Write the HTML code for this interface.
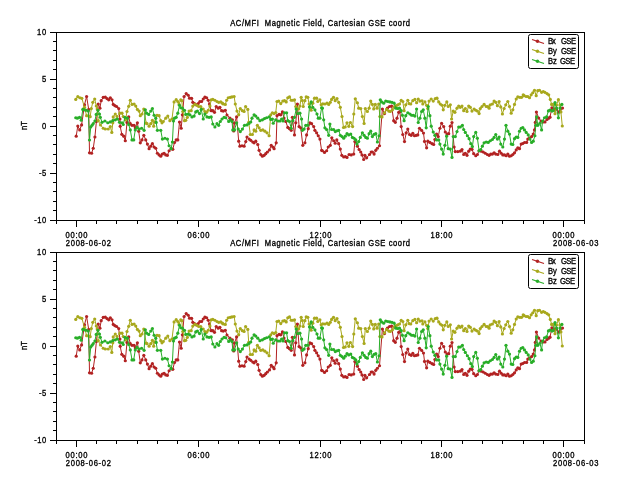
<!DOCTYPE html>
<html><head><meta charset="utf-8"><style>html,body{margin:0;padding:0;background:#fff;overflow:hidden}svg{display:block;will-change:transform}.t{stroke:#000;stroke-width:0.3px}</style></head>
<body>
<svg width="640" height="480" viewBox="0 0 640 480" font-family='"Liberation Sans", sans-serif' font-size="7.6" font-weight="normal" fill="#000" stroke="none">
<rect width="640" height="480" fill="#fff"/>
<rect x="56.5" y="32.5" width="528" height="188" fill="none" stroke="#000" stroke-width="1"/>
<line x1="50" y1="220.5" x2="56" y2="220.5" stroke="#000" stroke-width="1"/>
<line x1="53" y1="210.5" x2="56" y2="210.5" stroke="#000" stroke-width="1"/>
<line x1="53" y1="201.5" x2="56" y2="201.5" stroke="#000" stroke-width="1"/>
<line x1="53" y1="191.5" x2="56" y2="191.5" stroke="#000" stroke-width="1"/>
<line x1="53" y1="182.5" x2="56" y2="182.5" stroke="#000" stroke-width="1"/>
<line x1="50" y1="173.5" x2="56" y2="173.5" stroke="#000" stroke-width="1"/>
<line x1="53" y1="163.5" x2="56" y2="163.5" stroke="#000" stroke-width="1"/>
<line x1="53" y1="154.5" x2="56" y2="154.5" stroke="#000" stroke-width="1"/>
<line x1="53" y1="144.5" x2="56" y2="144.5" stroke="#000" stroke-width="1"/>
<line x1="53" y1="135.5" x2="56" y2="135.5" stroke="#000" stroke-width="1"/>
<line x1="50" y1="126.5" x2="56" y2="126.5" stroke="#000" stroke-width="1"/>
<line x1="53" y1="116.5" x2="56" y2="116.5" stroke="#000" stroke-width="1"/>
<line x1="53" y1="107.5" x2="56" y2="107.5" stroke="#000" stroke-width="1"/>
<line x1="53" y1="97.5" x2="56" y2="97.5" stroke="#000" stroke-width="1"/>
<line x1="53" y1="88.5" x2="56" y2="88.5" stroke="#000" stroke-width="1"/>
<line x1="50" y1="79.5" x2="56" y2="79.5" stroke="#000" stroke-width="1"/>
<line x1="53" y1="69.5" x2="56" y2="69.5" stroke="#000" stroke-width="1"/>
<line x1="53" y1="60.5" x2="56" y2="60.5" stroke="#000" stroke-width="1"/>
<line x1="53" y1="50.5" x2="56" y2="50.5" stroke="#000" stroke-width="1"/>
<line x1="53" y1="41.5" x2="56" y2="41.5" stroke="#000" stroke-width="1"/>
<line x1="50" y1="32.5" x2="56" y2="32.5" stroke="#000" stroke-width="1"/>
<line x1="56.5" y1="221" x2="56.5" y2="224" stroke="#000" stroke-width="1"/>
<line x1="76.5" y1="221" x2="76.5" y2="227" stroke="#000" stroke-width="1"/>
<line x1="96.5" y1="221" x2="96.5" y2="224" stroke="#000" stroke-width="1"/>
<line x1="116.5" y1="221" x2="116.5" y2="224" stroke="#000" stroke-width="1"/>
<line x1="137.5" y1="221" x2="137.5" y2="224" stroke="#000" stroke-width="1"/>
<line x1="157.5" y1="221" x2="157.5" y2="224" stroke="#000" stroke-width="1"/>
<line x1="177.5" y1="221" x2="177.5" y2="224" stroke="#000" stroke-width="1"/>
<line x1="198.5" y1="221" x2="198.5" y2="227" stroke="#000" stroke-width="1"/>
<line x1="218.5" y1="221" x2="218.5" y2="224" stroke="#000" stroke-width="1"/>
<line x1="238.5" y1="221" x2="238.5" y2="224" stroke="#000" stroke-width="1"/>
<line x1="259.5" y1="221" x2="259.5" y2="224" stroke="#000" stroke-width="1"/>
<line x1="279.5" y1="221" x2="279.5" y2="224" stroke="#000" stroke-width="1"/>
<line x1="299.5" y1="221" x2="299.5" y2="224" stroke="#000" stroke-width="1"/>
<line x1="320.5" y1="221" x2="320.5" y2="227" stroke="#000" stroke-width="1"/>
<line x1="340.5" y1="221" x2="340.5" y2="224" stroke="#000" stroke-width="1"/>
<line x1="360.5" y1="221" x2="360.5" y2="224" stroke="#000" stroke-width="1"/>
<line x1="380.5" y1="221" x2="380.5" y2="224" stroke="#000" stroke-width="1"/>
<line x1="401.5" y1="221" x2="401.5" y2="224" stroke="#000" stroke-width="1"/>
<line x1="421.5" y1="221" x2="421.5" y2="224" stroke="#000" stroke-width="1"/>
<line x1="441.5" y1="221" x2="441.5" y2="227" stroke="#000" stroke-width="1"/>
<line x1="462.5" y1="221" x2="462.5" y2="224" stroke="#000" stroke-width="1"/>
<line x1="482.5" y1="221" x2="482.5" y2="224" stroke="#000" stroke-width="1"/>
<line x1="502.5" y1="221" x2="502.5" y2="224" stroke="#000" stroke-width="1"/>
<line x1="523.5" y1="221" x2="523.5" y2="224" stroke="#000" stroke-width="1"/>
<line x1="543.5" y1="221" x2="543.5" y2="224" stroke="#000" stroke-width="1"/>
<line x1="563.5" y1="221" x2="563.5" y2="227" stroke="#000" stroke-width="1"/>
<line x1="584.5" y1="221" x2="584.5" y2="224" stroke="#000" stroke-width="1"/>
<text class="t" transform="translate(46.30 35.20) scale(1 1.100)" text-anchor="end" textLength="9.20" lengthAdjust="spacing" >10</text>
<text class="t" transform="translate(46.30 82.20) scale(1 1.100)" text-anchor="end" textLength="4.20" lengthAdjust="spacing" >5</text>
<text class="t" transform="translate(46.30 129.20) scale(1 1.100)" text-anchor="end" textLength="4.20" lengthAdjust="spacing" >0</text>
<text class="t" transform="translate(46.30 176.20) scale(1 1.100)" text-anchor="end" textLength="7.30" lengthAdjust="spacing" >-5</text>
<text class="t" transform="translate(46.30 223.20) scale(1 1.100)" text-anchor="end" textLength="12.10" lengthAdjust="spacing" >-10</text>
<text class="t" transform="translate(76.50 237.60) scale(1 1.100)" text-anchor="middle" textLength="22.00" lengthAdjust="spacing" >00:00</text>
<text class="t" transform="translate(198.50 237.60) scale(1 1.100)" text-anchor="middle" textLength="22.00" lengthAdjust="spacing" >06:00</text>
<text class="t" transform="translate(320.50 237.60) scale(1 1.100)" text-anchor="middle" textLength="22.00" lengthAdjust="spacing" >12:00</text>
<text class="t" transform="translate(441.50 237.60) scale(1 1.100)" text-anchor="middle" textLength="22.00" lengthAdjust="spacing" >18:00</text>
<text class="t" transform="translate(563.50 237.60) scale(1 1.100)" text-anchor="middle" textLength="22.00" lengthAdjust="spacing" >00:00</text>
<text class="t" transform="translate(65.80 246.00) scale(1 1.100)" text-anchor="start" textLength="45.20" lengthAdjust="spacing" >2008-06-02</text>
<text class="t" transform="translate(553.00 246.00) scale(1 1.100)" text-anchor="start" textLength="45.40" lengthAdjust="spacing" >2008-06-03</text>
<text class="t" transform="translate(230.20 25.80) scale(1 1.100)" text-anchor="start" textLength="179.80" lengthAdjust="spacing" >AC/MFI&#160;&#160;Magnetic Field, Cartesian GSE coord</text>
<text class="t" transform="translate(27,125.50) rotate(-90) scale(1 1.1)" text-anchor="middle" font-size="7.6">nT</text>
<path d="M76.20 136.20 L77.80 126.00 L79.70 129.90 L81.60 124.90 L84.50 104.80 L86.60 96.50 L88.70 109.40 L89.50 152.80 L91.60 153.25 L93.25 148.25 L94.90 137.00 L96.40 121.50 L98.25 104.00 L99.90 108.20 L101.20 100.70 L103.25 97.30 L105.30 97.20 L107.00 98.60 L108.70 99.80 L110.30 97.75 L112.00 99.80 L113.25 104.40 L114.90 105.70 L116.60 106.50 L118.70 108.60 L119.90 119.00 L120.20 126.30 L121.80 134.30 L123.70 136.20 L125.30 140.75 L127.00 122.40 L128.70 116.90 L130.30 123.70 L132.00 125.30 L134.10 125.30 L135.30 127.80 L137.40 122.80 L138.70 131.20 L140.30 142.80 L142.00 139.90 L143.80 135.30 L145.75 139.90 L147.40 144.10 L149.10 148.70 L150.75 146.20 L152.40 143.70 L154.10 147.00 L155.75 148.25 L157.40 153.25 L159.10 154.90 L160.75 156.20 L162.40 154.10 L164.10 153.25 L165.75 154.90 L167.40 155.30 L169.10 150.75 L171.20 148.70 L172.80 149.30 L174.50 142.50 L176.20 139.90 L177.80 139.90 L179.50 122.00 L181.20 128.25 L182.40 114.80 L184.10 96.50 L186.20 93.60 L188.25 95.25 L189.50 98.20 L191.60 98.30 L192.80 102.30 L194.50 103.60 L196.20 104.80 L198.25 103.60 L199.90 101.50 L201.60 101.50 L203.25 99.00 L204.90 97.20 L206.60 97.75 L208.25 100.25 L209.50 104.00 L211.20 110.70 L212.80 110.70 L214.50 112.30 L216.20 106.50 L218.25 108.20 L219.90 107.30 L221.60 110.70 L223.25 111.10 L225.30 110.25 L227.00 115.00 L229.90 118.20 L232.40 119.80 L233.70 131.00 L234.50 123.00 L236.60 116.90 L238.70 141.20 L239.90 146.20 L242.00 145.75 L244.10 146.20 L245.75 141.60 L247.00 137.00 L249.10 139.10 L250.75 140.30 L252.80 142.00 L254.10 142.80 L255.75 141.20 L257.80 144.50 L259.10 150.30 L260.75 154.50 L262.40 156.20 L264.10 155.30 L265.75 153.70 L267.40 152.00 L269.50 149.90 L271.20 145.30 L272.80 147.00 L274.10 148.70 L276.20 142.80 L277.00 115.70 L279.10 114.40 L280.75 114.80 L282.40 111.90 L284.00 118.00 L285.75 121.50 L287.80 127.40 L289.50 128.70 L291.20 130.30 L292.40 117.30 L294.50 134.90 L295.75 122.80 L297.40 104.00 L299.10 126.60 L300.75 127.80 L302.80 145.30 L304.90 142.80 L306.60 134.90 L308.25 128.70 L309.90 122.80 L311.60 123.70 L313.70 126.60 L314.90 130.30 L316.60 132.80 L318.25 135.75 L319.90 139.10 L321.60 150.30 L322.40 150.75 L324.50 152.40 L326.60 150.75 L328.25 147.00 L330.30 145.30 L331.80 137.80 L333.70 140.75 L335.20 143.25 L336.80 139.90 L338.70 143.70 L340.30 149.10 L341.80 155.30 L343.70 157.00 L345.30 156.60 L347.00 157.40 L349.10 154.50 L351.20 154.90 L353.70 154.10 L354.90 141.60 L357.40 146.20 L359.10 149.50 L360.75 152.00 L362.00 154.90 L363.70 159.50 L364.90 155.30 L366.60 157.80 L369.50 154.50 L371.20 152.00 L372.40 152.00 L374.10 154.10 L375.75 150.30 L377.40 148.25 L379.50 145.75 L382.40 109.00 L384.50 113.60 L387.40 108.20 L389.50 106.50 L391.60 106.10 L393.70 120.70 L395.30 122.30 L397.00 118.20 L398.70 112.30 L399.90 111.50 L401.20 126.60 L402.80 134.50 L404.50 141.60 L406.20 132.80 L407.80 129.10 L409.50 134.50 L411.20 135.30 L412.80 133.25 L414.50 135.75 L416.20 135.30 L417.80 134.90 L419.50 128.25 L421.60 130.30 L423.50 133.00 L424.50 141.40 L426.60 147.80 L427.80 141.20 L429.90 142.40 L432.00 143.70 L433.70 144.50 L434.90 139.50 L436.60 134.10 L438.25 136.60 L439.90 128.25 L441.60 123.25 L443.70 126.60 L445.30 132.00 L447.00 134.00 L448.70 133.70 L450.30 126.20 L452.00 122.50 L454.10 147.00 L455.30 151.60 L457.80 151.60 L460.30 151.20 L462.00 149.50 L463.70 154.50 L465.30 153.25 L467.00 155.30 L468.70 151.20 L470.30 149.10 L472.00 149.30 L473.70 153.70 L475.75 155.75 L477.40 154.50 L479.10 150.75 L481.20 151.20 L483.25 152.00 L485.30 153.25 L487.40 154.50 L489.10 155.30 L490.75 154.10 L492.40 154.10 L494.10 152.80 L495.75 154.10 L497.80 154.50 L499.50 151.20 L501.20 153.25 L502.80 154.90 L504.50 154.90 L506.20 155.75 L507.80 154.10 L509.50 156.20 L511.20 155.75 L512.80 154.50 L514.50 152.80 L516.20 149.90 L517.80 147.80 L519.50 148.70 L521.20 144.10 L522.80 143.50 L524.50 142.50 L526.60 142.40 L527.80 139.10 L529.50 138.00 L531.60 136.60 L533.25 134.10 L534.50 129.90 L535.30 122.40 L536.40 112.00 L538.75 118.10 L541.00 121.00 L543.00 122.00 L545.00 121.90 L547.00 119.40 L548.70 118.20 L550.00 117.20 L551.90 107.80 L553.25 108.20 L555.00 110.00 L556.60 109.00 L558.40 112.20 L560.00 111.00 L562.50 108.10" fill="none" stroke="#b22222" stroke-width="1" stroke-linejoin="round"/>
<g fill="#b22222"><circle cx="76.20" cy="136.20" r="1.60"/><circle cx="77.80" cy="126.00" r="1.60"/><circle cx="79.70" cy="129.90" r="1.60"/><circle cx="81.60" cy="124.90" r="1.60"/><circle cx="84.50" cy="104.80" r="1.60"/><circle cx="86.60" cy="96.50" r="1.60"/><circle cx="88.70" cy="109.40" r="1.60"/><circle cx="89.50" cy="152.80" r="1.60"/><circle cx="91.60" cy="153.25" r="1.60"/><circle cx="93.25" cy="148.25" r="1.60"/><circle cx="94.90" cy="137.00" r="1.60"/><circle cx="96.40" cy="121.50" r="1.60"/><circle cx="98.25" cy="104.00" r="1.60"/><circle cx="99.90" cy="108.20" r="1.60"/><circle cx="101.20" cy="100.70" r="1.60"/><circle cx="103.25" cy="97.30" r="1.60"/><circle cx="105.30" cy="97.20" r="1.60"/><circle cx="107.00" cy="98.60" r="1.60"/><circle cx="108.70" cy="99.80" r="1.60"/><circle cx="110.30" cy="97.75" r="1.60"/><circle cx="112.00" cy="99.80" r="1.60"/><circle cx="113.25" cy="104.40" r="1.60"/><circle cx="114.90" cy="105.70" r="1.60"/><circle cx="116.60" cy="106.50" r="1.60"/><circle cx="118.70" cy="108.60" r="1.60"/><circle cx="119.90" cy="119.00" r="1.60"/><circle cx="120.20" cy="126.30" r="1.60"/><circle cx="121.80" cy="134.30" r="1.60"/><circle cx="123.70" cy="136.20" r="1.60"/><circle cx="125.30" cy="140.75" r="1.60"/><circle cx="127.00" cy="122.40" r="1.60"/><circle cx="128.70" cy="116.90" r="1.60"/><circle cx="130.30" cy="123.70" r="1.60"/><circle cx="132.00" cy="125.30" r="1.60"/><circle cx="134.10" cy="125.30" r="1.60"/><circle cx="135.30" cy="127.80" r="1.60"/><circle cx="137.40" cy="122.80" r="1.60"/><circle cx="138.70" cy="131.20" r="1.60"/><circle cx="140.30" cy="142.80" r="1.60"/><circle cx="142.00" cy="139.90" r="1.60"/><circle cx="143.80" cy="135.30" r="1.60"/><circle cx="145.75" cy="139.90" r="1.60"/><circle cx="147.40" cy="144.10" r="1.60"/><circle cx="149.10" cy="148.70" r="1.60"/><circle cx="150.75" cy="146.20" r="1.60"/><circle cx="152.40" cy="143.70" r="1.60"/><circle cx="154.10" cy="147.00" r="1.60"/><circle cx="155.75" cy="148.25" r="1.60"/><circle cx="157.40" cy="153.25" r="1.60"/><circle cx="159.10" cy="154.90" r="1.60"/><circle cx="160.75" cy="156.20" r="1.60"/><circle cx="162.40" cy="154.10" r="1.60"/><circle cx="164.10" cy="153.25" r="1.60"/><circle cx="165.75" cy="154.90" r="1.60"/><circle cx="167.40" cy="155.30" r="1.60"/><circle cx="169.10" cy="150.75" r="1.60"/><circle cx="171.20" cy="148.70" r="1.60"/><circle cx="172.80" cy="149.30" r="1.60"/><circle cx="174.50" cy="142.50" r="1.60"/><circle cx="176.20" cy="139.90" r="1.60"/><circle cx="177.80" cy="139.90" r="1.60"/><circle cx="179.50" cy="122.00" r="1.60"/><circle cx="181.20" cy="128.25" r="1.60"/><circle cx="182.40" cy="114.80" r="1.60"/><circle cx="184.10" cy="96.50" r="1.60"/><circle cx="186.20" cy="93.60" r="1.60"/><circle cx="188.25" cy="95.25" r="1.60"/><circle cx="189.50" cy="98.20" r="1.60"/><circle cx="191.60" cy="98.30" r="1.60"/><circle cx="192.80" cy="102.30" r="1.60"/><circle cx="194.50" cy="103.60" r="1.60"/><circle cx="196.20" cy="104.80" r="1.60"/><circle cx="198.25" cy="103.60" r="1.60"/><circle cx="199.90" cy="101.50" r="1.60"/><circle cx="201.60" cy="101.50" r="1.60"/><circle cx="203.25" cy="99.00" r="1.60"/><circle cx="204.90" cy="97.20" r="1.60"/><circle cx="206.60" cy="97.75" r="1.60"/><circle cx="208.25" cy="100.25" r="1.60"/><circle cx="209.50" cy="104.00" r="1.60"/><circle cx="211.20" cy="110.70" r="1.60"/><circle cx="212.80" cy="110.70" r="1.60"/><circle cx="214.50" cy="112.30" r="1.60"/><circle cx="216.20" cy="106.50" r="1.60"/><circle cx="218.25" cy="108.20" r="1.60"/><circle cx="219.90" cy="107.30" r="1.60"/><circle cx="221.60" cy="110.70" r="1.60"/><circle cx="223.25" cy="111.10" r="1.60"/><circle cx="225.30" cy="110.25" r="1.60"/><circle cx="227.00" cy="115.00" r="1.60"/><circle cx="229.90" cy="118.20" r="1.60"/><circle cx="232.40" cy="119.80" r="1.60"/><circle cx="233.70" cy="131.00" r="1.60"/><circle cx="234.50" cy="123.00" r="1.60"/><circle cx="236.60" cy="116.90" r="1.60"/><circle cx="238.70" cy="141.20" r="1.60"/><circle cx="239.90" cy="146.20" r="1.60"/><circle cx="242.00" cy="145.75" r="1.60"/><circle cx="244.10" cy="146.20" r="1.60"/><circle cx="245.75" cy="141.60" r="1.60"/><circle cx="247.00" cy="137.00" r="1.60"/><circle cx="249.10" cy="139.10" r="1.60"/><circle cx="250.75" cy="140.30" r="1.60"/><circle cx="252.80" cy="142.00" r="1.60"/><circle cx="254.10" cy="142.80" r="1.60"/><circle cx="255.75" cy="141.20" r="1.60"/><circle cx="257.80" cy="144.50" r="1.60"/><circle cx="259.10" cy="150.30" r="1.60"/><circle cx="260.75" cy="154.50" r="1.60"/><circle cx="262.40" cy="156.20" r="1.60"/><circle cx="264.10" cy="155.30" r="1.60"/><circle cx="265.75" cy="153.70" r="1.60"/><circle cx="267.40" cy="152.00" r="1.60"/><circle cx="269.50" cy="149.90" r="1.60"/><circle cx="271.20" cy="145.30" r="1.60"/><circle cx="272.80" cy="147.00" r="1.60"/><circle cx="274.10" cy="148.70" r="1.60"/><circle cx="276.20" cy="142.80" r="1.60"/><circle cx="277.00" cy="115.70" r="1.60"/><circle cx="279.10" cy="114.40" r="1.60"/><circle cx="280.75" cy="114.80" r="1.60"/><circle cx="282.40" cy="111.90" r="1.60"/><circle cx="284.00" cy="118.00" r="1.60"/><circle cx="285.75" cy="121.50" r="1.60"/><circle cx="287.80" cy="127.40" r="1.60"/><circle cx="289.50" cy="128.70" r="1.60"/><circle cx="291.20" cy="130.30" r="1.60"/><circle cx="292.40" cy="117.30" r="1.60"/><circle cx="294.50" cy="134.90" r="1.60"/><circle cx="295.75" cy="122.80" r="1.60"/><circle cx="297.40" cy="104.00" r="1.60"/><circle cx="299.10" cy="126.60" r="1.60"/><circle cx="300.75" cy="127.80" r="1.60"/><circle cx="302.80" cy="145.30" r="1.60"/><circle cx="304.90" cy="142.80" r="1.60"/><circle cx="306.60" cy="134.90" r="1.60"/><circle cx="308.25" cy="128.70" r="1.60"/><circle cx="309.90" cy="122.80" r="1.60"/><circle cx="311.60" cy="123.70" r="1.60"/><circle cx="313.70" cy="126.60" r="1.60"/><circle cx="314.90" cy="130.30" r="1.60"/><circle cx="316.60" cy="132.80" r="1.60"/><circle cx="318.25" cy="135.75" r="1.60"/><circle cx="319.90" cy="139.10" r="1.60"/><circle cx="321.60" cy="150.30" r="1.60"/><circle cx="322.40" cy="150.75" r="1.60"/><circle cx="324.50" cy="152.40" r="1.60"/><circle cx="326.60" cy="150.75" r="1.60"/><circle cx="328.25" cy="147.00" r="1.60"/><circle cx="330.30" cy="145.30" r="1.60"/><circle cx="331.80" cy="137.80" r="1.60"/><circle cx="333.70" cy="140.75" r="1.60"/><circle cx="335.20" cy="143.25" r="1.60"/><circle cx="336.80" cy="139.90" r="1.60"/><circle cx="338.70" cy="143.70" r="1.60"/><circle cx="340.30" cy="149.10" r="1.60"/><circle cx="341.80" cy="155.30" r="1.60"/><circle cx="343.70" cy="157.00" r="1.60"/><circle cx="345.30" cy="156.60" r="1.60"/><circle cx="347.00" cy="157.40" r="1.60"/><circle cx="349.10" cy="154.50" r="1.60"/><circle cx="351.20" cy="154.90" r="1.60"/><circle cx="353.70" cy="154.10" r="1.60"/><circle cx="354.90" cy="141.60" r="1.60"/><circle cx="357.40" cy="146.20" r="1.60"/><circle cx="359.10" cy="149.50" r="1.60"/><circle cx="360.75" cy="152.00" r="1.60"/><circle cx="362.00" cy="154.90" r="1.60"/><circle cx="363.70" cy="159.50" r="1.60"/><circle cx="364.90" cy="155.30" r="1.60"/><circle cx="366.60" cy="157.80" r="1.60"/><circle cx="369.50" cy="154.50" r="1.60"/><circle cx="371.20" cy="152.00" r="1.60"/><circle cx="372.40" cy="152.00" r="1.60"/><circle cx="374.10" cy="154.10" r="1.60"/><circle cx="375.75" cy="150.30" r="1.60"/><circle cx="377.40" cy="148.25" r="1.60"/><circle cx="379.50" cy="145.75" r="1.60"/><circle cx="382.40" cy="109.00" r="1.60"/><circle cx="384.50" cy="113.60" r="1.60"/><circle cx="387.40" cy="108.20" r="1.60"/><circle cx="389.50" cy="106.50" r="1.60"/><circle cx="391.60" cy="106.10" r="1.60"/><circle cx="393.70" cy="120.70" r="1.60"/><circle cx="395.30" cy="122.30" r="1.60"/><circle cx="397.00" cy="118.20" r="1.60"/><circle cx="398.70" cy="112.30" r="1.60"/><circle cx="399.90" cy="111.50" r="1.60"/><circle cx="401.20" cy="126.60" r="1.60"/><circle cx="402.80" cy="134.50" r="1.60"/><circle cx="404.50" cy="141.60" r="1.60"/><circle cx="406.20" cy="132.80" r="1.60"/><circle cx="407.80" cy="129.10" r="1.60"/><circle cx="409.50" cy="134.50" r="1.60"/><circle cx="411.20" cy="135.30" r="1.60"/><circle cx="412.80" cy="133.25" r="1.60"/><circle cx="414.50" cy="135.75" r="1.60"/><circle cx="416.20" cy="135.30" r="1.60"/><circle cx="417.80" cy="134.90" r="1.60"/><circle cx="419.50" cy="128.25" r="1.60"/><circle cx="421.60" cy="130.30" r="1.60"/><circle cx="423.50" cy="133.00" r="1.60"/><circle cx="424.50" cy="141.40" r="1.60"/><circle cx="426.60" cy="147.80" r="1.60"/><circle cx="427.80" cy="141.20" r="1.60"/><circle cx="429.90" cy="142.40" r="1.60"/><circle cx="432.00" cy="143.70" r="1.60"/><circle cx="433.70" cy="144.50" r="1.60"/><circle cx="434.90" cy="139.50" r="1.60"/><circle cx="436.60" cy="134.10" r="1.60"/><circle cx="438.25" cy="136.60" r="1.60"/><circle cx="439.90" cy="128.25" r="1.60"/><circle cx="441.60" cy="123.25" r="1.60"/><circle cx="443.70" cy="126.60" r="1.60"/><circle cx="445.30" cy="132.00" r="1.60"/><circle cx="447.00" cy="134.00" r="1.60"/><circle cx="448.70" cy="133.70" r="1.60"/><circle cx="450.30" cy="126.20" r="1.60"/><circle cx="452.00" cy="122.50" r="1.60"/><circle cx="454.10" cy="147.00" r="1.60"/><circle cx="455.30" cy="151.60" r="1.60"/><circle cx="457.80" cy="151.60" r="1.60"/><circle cx="460.30" cy="151.20" r="1.60"/><circle cx="462.00" cy="149.50" r="1.60"/><circle cx="463.70" cy="154.50" r="1.60"/><circle cx="465.30" cy="153.25" r="1.60"/><circle cx="467.00" cy="155.30" r="1.60"/><circle cx="468.70" cy="151.20" r="1.60"/><circle cx="470.30" cy="149.10" r="1.60"/><circle cx="472.00" cy="149.30" r="1.60"/><circle cx="473.70" cy="153.70" r="1.60"/><circle cx="475.75" cy="155.75" r="1.60"/><circle cx="477.40" cy="154.50" r="1.60"/><circle cx="479.10" cy="150.75" r="1.60"/><circle cx="481.20" cy="151.20" r="1.60"/><circle cx="483.25" cy="152.00" r="1.60"/><circle cx="485.30" cy="153.25" r="1.60"/><circle cx="487.40" cy="154.50" r="1.60"/><circle cx="489.10" cy="155.30" r="1.60"/><circle cx="490.75" cy="154.10" r="1.60"/><circle cx="492.40" cy="154.10" r="1.60"/><circle cx="494.10" cy="152.80" r="1.60"/><circle cx="495.75" cy="154.10" r="1.60"/><circle cx="497.80" cy="154.50" r="1.60"/><circle cx="499.50" cy="151.20" r="1.60"/><circle cx="501.20" cy="153.25" r="1.60"/><circle cx="502.80" cy="154.90" r="1.60"/><circle cx="504.50" cy="154.90" r="1.60"/><circle cx="506.20" cy="155.75" r="1.60"/><circle cx="507.80" cy="154.10" r="1.60"/><circle cx="509.50" cy="156.20" r="1.60"/><circle cx="511.20" cy="155.75" r="1.60"/><circle cx="512.80" cy="154.50" r="1.60"/><circle cx="514.50" cy="152.80" r="1.60"/><circle cx="516.20" cy="149.90" r="1.60"/><circle cx="517.80" cy="147.80" r="1.60"/><circle cx="519.50" cy="148.70" r="1.60"/><circle cx="521.20" cy="144.10" r="1.60"/><circle cx="522.80" cy="143.50" r="1.60"/><circle cx="524.50" cy="142.50" r="1.60"/><circle cx="526.60" cy="142.40" r="1.60"/><circle cx="527.80" cy="139.10" r="1.60"/><circle cx="529.50" cy="138.00" r="1.60"/><circle cx="531.60" cy="136.60" r="1.60"/><circle cx="533.25" cy="134.10" r="1.60"/><circle cx="534.50" cy="129.90" r="1.60"/><circle cx="535.30" cy="122.40" r="1.60"/><circle cx="536.40" cy="112.00" r="1.60"/><circle cx="538.75" cy="118.10" r="1.60"/><circle cx="541.00" cy="121.00" r="1.60"/><circle cx="543.00" cy="122.00" r="1.60"/><circle cx="545.00" cy="121.90" r="1.60"/><circle cx="547.00" cy="119.40" r="1.60"/><circle cx="548.70" cy="118.20" r="1.60"/><circle cx="550.00" cy="117.20" r="1.60"/><circle cx="551.90" cy="107.80" r="1.60"/><circle cx="553.25" cy="108.20" r="1.60"/><circle cx="555.00" cy="110.00" r="1.60"/><circle cx="556.60" cy="109.00" r="1.60"/><circle cx="558.40" cy="112.20" r="1.60"/><circle cx="560.00" cy="111.00" r="1.60"/><circle cx="562.50" cy="108.10" r="1.60"/></g>
<path d="M75.75 99.40 L77.80 96.70 L79.90 97.75 L81.80 98.30 L84.50 107.30 L86.60 115.70 L88.70 116.00 L90.20 116.70 L91.30 108.60 L92.80 102.30 L94.70 99.00 L96.30 106.00 L97.20 109.00 L98.25 120.70 L100.50 125.00 L103.25 128.25 L105.30 129.00 L108.25 129.00 L110.30 126.60 L111.80 132.40 L112.80 122.80 L113.25 116.90 L115.30 114.00 L117.00 116.50 L119.90 113.20 L122.00 113.20 L123.25 116.50 L125.50 120.00 L127.00 111.50 L128.70 106.30 L130.30 100.25 L132.00 104.40 L134.10 104.00 L135.75 106.10 L137.40 109.40 L139.10 111.10 L140.30 115.70 L142.00 114.00 L143.80 109.00 L146.20 123.20 L147.00 123.70 L149.10 126.20 L150.75 123.70 L152.40 120.25 L153.70 126.20 L154.50 122.00 L157.00 115.25 L159.10 115.70 L160.75 120.70 L162.00 122.80 L163.25 121.50 L165.75 118.20 L167.80 116.10 L169.90 120.70 L172.00 119.00 L174.10 101.90 L176.20 99.70 L177.80 101.50 L179.00 104.00 L180.75 99.80 L181.80 100.70 L182.80 111.50 L184.50 120.70 L185.75 120.30 L187.40 117.30 L189.10 111.10 L191.20 110.70 L192.80 106.10 L194.90 104.40 L197.00 105.25 L198.70 106.50 L200.75 106.50 L203.25 109.00 L204.90 111.50 L206.60 112.30 L208.25 110.25 L209.90 106.10 L211.20 99.80 L212.80 99.40 L214.90 100.25 L217.00 101.50 L218.70 102.30 L220.75 101.90 L222.40 103.20 L223.25 104.00 L225.30 104.40 L226.60 100.25 L228.25 97.75 L230.30 97.30 L232.00 96.90 L234.10 96.50 L235.30 104.00 L237.00 111.10 L238.70 114.80 L240.30 108.60 L242.40 110.70 L244.10 111.50 L245.60 106.50 L247.80 109.40 L248.70 122.30 L250.30 134.50 L252.40 134.50 L254.10 129.90 L255.75 131.20 L257.40 125.30 L259.10 127.80 L260.75 130.30 L262.80 129.90 L264.90 131.20 L267.00 132.80 L269.10 135.75 L270.75 114.80 L272.40 112.75 L274.10 113.60 L275.75 112.50 L277.00 101.50 L278.70 101.10 L280.75 103.60 L282.80 101.10 L284.50 100.70 L286.20 101.90 L287.80 97.75 L289.50 96.90 L291.20 100.25 L292.80 100.25 L294.50 99.80 L295.75 106.50 L297.00 108.20 L298.70 109.00 L299.90 106.10 L301.20 97.30 L302.30 100.50 L303.25 106.50 L304.90 100.70 L306.20 96.90 L307.80 97.30 L309.10 104.00 L311.20 110.25 L312.80 103.20 L314.50 98.20 L316.60 98.20 L317.80 101.50 L319.90 99.80 L321.20 104.80 L322.80 103.80 L324.90 104.00 L327.00 103.20 L328.70 104.40 L330.30 102.30 L331.60 99.40 L333.50 97.30 L335.20 100.70 L337.00 98.60 L338.70 102.30 L340.30 107.30 L342.00 116.50 L343.50 127.50 L345.20 127.00 L347.00 122.80 L348.80 126.30 L350.40 122.50 L352.60 126.60 L353.80 114.00 L355.30 98.80 L357.40 102.75 L358.70 108.20 L360.75 108.60 L362.40 116.50 L364.10 123.50 L365.30 108.60 L367.40 111.50 L369.10 108.20 L370.75 101.10 L372.40 104.40 L373.70 109.00 L375.30 104.40 L377.00 108.20 L378.70 104.00 L379.90 116.50 L382.00 116.90 L384.50 112.75 L386.60 109.40 L388.70 111.10 L390.30 111.50 L392.40 109.80 L394.10 106.90 L396.20 105.70 L397.80 104.80 L399.50 104.00 L401.20 100.25 L402.80 101.50 L404.10 110.70 L405.75 104.80 L407.80 100.25 L409.10 103.60 L410.75 104.00 L412.80 100.70 L414.90 99.40 L416.60 102.75 L418.25 99.00 L419.90 101.10 L422.00 100.80 L422.80 104.00 L424.90 101.90 L426.60 105.25 L427.80 108.60 L429.10 101.10 L431.20 99.00 L433.25 101.10 L435.30 98.60 L437.00 98.20 L438.70 101.90 L440.30 104.00 L442.00 105.25 L443.25 109.80 L444.90 105.25 L446.80 101.90 L448.25 106.50 L450.30 104.80 L451.60 119.00 L453.25 111.10 L454.90 112.30 L457.00 108.20 L458.70 106.10 L460.30 107.30 L462.00 106.10 L463.70 110.70 L465.30 108.60 L467.00 111.50 L468.70 106.10 L470.30 107.30 L472.00 111.10 L474.10 109.00 L475.75 110.25 L477.40 111.10 L479.10 113.60 L480.30 108.60 L482.00 106.50 L484.10 104.40 L486.20 106.50 L487.80 106.50 L489.10 108.20 L490.30 104.80 L492.40 104.00 L494.10 101.10 L495.75 102.30 L497.40 105.70 L499.10 101.50 L500.75 106.90 L502.40 114.00 L504.10 108.60 L505.75 104.80 L507.80 101.50 L509.50 106.50 L511.20 113.20 L512.80 109.80 L514.50 104.40 L516.20 99.00 L517.80 96.90 L519.90 97.30 L521.60 97.30 L523.25 94.80 L524.10 95.70 L526.20 96.50 L527.80 96.50 L529.50 97.75 L531.20 94.80 L532.80 92.75 L534.50 90.25 L536.20 95.70 L537.80 90.70 L539.50 90.25 L541.60 92.30 L543.25 91.50 L544.90 92.30 L547.00 93.60 L548.70 94.80 L550.30 99.40 L551.60 104.40 L552.80 104.40 L555.00 113.75 L556.50 105.00 L558.40 99.70 L559.90 105.00 L560.90 111.90 L562.30 126.00" fill="none" stroke="#a8a81c" stroke-width="1" stroke-linejoin="round"/>
<g fill="#a8a81c"><circle cx="75.75" cy="99.40" r="1.60"/><circle cx="77.80" cy="96.70" r="1.60"/><circle cx="79.90" cy="97.75" r="1.60"/><circle cx="81.80" cy="98.30" r="1.60"/><circle cx="84.50" cy="107.30" r="1.60"/><circle cx="86.60" cy="115.70" r="1.60"/><circle cx="88.70" cy="116.00" r="1.60"/><circle cx="90.20" cy="116.70" r="1.60"/><circle cx="91.30" cy="108.60" r="1.60"/><circle cx="92.80" cy="102.30" r="1.60"/><circle cx="94.70" cy="99.00" r="1.60"/><circle cx="96.30" cy="106.00" r="1.60"/><circle cx="97.20" cy="109.00" r="1.60"/><circle cx="98.25" cy="120.70" r="1.60"/><circle cx="100.50" cy="125.00" r="1.60"/><circle cx="103.25" cy="128.25" r="1.60"/><circle cx="105.30" cy="129.00" r="1.60"/><circle cx="108.25" cy="129.00" r="1.60"/><circle cx="110.30" cy="126.60" r="1.60"/><circle cx="111.80" cy="132.40" r="1.60"/><circle cx="112.80" cy="122.80" r="1.60"/><circle cx="113.25" cy="116.90" r="1.60"/><circle cx="115.30" cy="114.00" r="1.60"/><circle cx="117.00" cy="116.50" r="1.60"/><circle cx="119.90" cy="113.20" r="1.60"/><circle cx="122.00" cy="113.20" r="1.60"/><circle cx="123.25" cy="116.50" r="1.60"/><circle cx="125.50" cy="120.00" r="1.60"/><circle cx="127.00" cy="111.50" r="1.60"/><circle cx="128.70" cy="106.30" r="1.60"/><circle cx="130.30" cy="100.25" r="1.60"/><circle cx="132.00" cy="104.40" r="1.60"/><circle cx="134.10" cy="104.00" r="1.60"/><circle cx="135.75" cy="106.10" r="1.60"/><circle cx="137.40" cy="109.40" r="1.60"/><circle cx="139.10" cy="111.10" r="1.60"/><circle cx="140.30" cy="115.70" r="1.60"/><circle cx="142.00" cy="114.00" r="1.60"/><circle cx="143.80" cy="109.00" r="1.60"/><circle cx="146.20" cy="123.20" r="1.60"/><circle cx="147.00" cy="123.70" r="1.60"/><circle cx="149.10" cy="126.20" r="1.60"/><circle cx="150.75" cy="123.70" r="1.60"/><circle cx="152.40" cy="120.25" r="1.60"/><circle cx="153.70" cy="126.20" r="1.60"/><circle cx="154.50" cy="122.00" r="1.60"/><circle cx="157.00" cy="115.25" r="1.60"/><circle cx="159.10" cy="115.70" r="1.60"/><circle cx="160.75" cy="120.70" r="1.60"/><circle cx="162.00" cy="122.80" r="1.60"/><circle cx="163.25" cy="121.50" r="1.60"/><circle cx="165.75" cy="118.20" r="1.60"/><circle cx="167.80" cy="116.10" r="1.60"/><circle cx="169.90" cy="120.70" r="1.60"/><circle cx="172.00" cy="119.00" r="1.60"/><circle cx="174.10" cy="101.90" r="1.60"/><circle cx="176.20" cy="99.70" r="1.60"/><circle cx="177.80" cy="101.50" r="1.60"/><circle cx="179.00" cy="104.00" r="1.60"/><circle cx="180.75" cy="99.80" r="1.60"/><circle cx="181.80" cy="100.70" r="1.60"/><circle cx="182.80" cy="111.50" r="1.60"/><circle cx="184.50" cy="120.70" r="1.60"/><circle cx="185.75" cy="120.30" r="1.60"/><circle cx="187.40" cy="117.30" r="1.60"/><circle cx="189.10" cy="111.10" r="1.60"/><circle cx="191.20" cy="110.70" r="1.60"/><circle cx="192.80" cy="106.10" r="1.60"/><circle cx="194.90" cy="104.40" r="1.60"/><circle cx="197.00" cy="105.25" r="1.60"/><circle cx="198.70" cy="106.50" r="1.60"/><circle cx="200.75" cy="106.50" r="1.60"/><circle cx="203.25" cy="109.00" r="1.60"/><circle cx="204.90" cy="111.50" r="1.60"/><circle cx="206.60" cy="112.30" r="1.60"/><circle cx="208.25" cy="110.25" r="1.60"/><circle cx="209.90" cy="106.10" r="1.60"/><circle cx="211.20" cy="99.80" r="1.60"/><circle cx="212.80" cy="99.40" r="1.60"/><circle cx="214.90" cy="100.25" r="1.60"/><circle cx="217.00" cy="101.50" r="1.60"/><circle cx="218.70" cy="102.30" r="1.60"/><circle cx="220.75" cy="101.90" r="1.60"/><circle cx="222.40" cy="103.20" r="1.60"/><circle cx="223.25" cy="104.00" r="1.60"/><circle cx="225.30" cy="104.40" r="1.60"/><circle cx="226.60" cy="100.25" r="1.60"/><circle cx="228.25" cy="97.75" r="1.60"/><circle cx="230.30" cy="97.30" r="1.60"/><circle cx="232.00" cy="96.90" r="1.60"/><circle cx="234.10" cy="96.50" r="1.60"/><circle cx="235.30" cy="104.00" r="1.60"/><circle cx="237.00" cy="111.10" r="1.60"/><circle cx="238.70" cy="114.80" r="1.60"/><circle cx="240.30" cy="108.60" r="1.60"/><circle cx="242.40" cy="110.70" r="1.60"/><circle cx="244.10" cy="111.50" r="1.60"/><circle cx="245.60" cy="106.50" r="1.60"/><circle cx="247.80" cy="109.40" r="1.60"/><circle cx="248.70" cy="122.30" r="1.60"/><circle cx="250.30" cy="134.50" r="1.60"/><circle cx="252.40" cy="134.50" r="1.60"/><circle cx="254.10" cy="129.90" r="1.60"/><circle cx="255.75" cy="131.20" r="1.60"/><circle cx="257.40" cy="125.30" r="1.60"/><circle cx="259.10" cy="127.80" r="1.60"/><circle cx="260.75" cy="130.30" r="1.60"/><circle cx="262.80" cy="129.90" r="1.60"/><circle cx="264.90" cy="131.20" r="1.60"/><circle cx="267.00" cy="132.80" r="1.60"/><circle cx="269.10" cy="135.75" r="1.60"/><circle cx="270.75" cy="114.80" r="1.60"/><circle cx="272.40" cy="112.75" r="1.60"/><circle cx="274.10" cy="113.60" r="1.60"/><circle cx="275.75" cy="112.50" r="1.60"/><circle cx="277.00" cy="101.50" r="1.60"/><circle cx="278.70" cy="101.10" r="1.60"/><circle cx="280.75" cy="103.60" r="1.60"/><circle cx="282.80" cy="101.10" r="1.60"/><circle cx="284.50" cy="100.70" r="1.60"/><circle cx="286.20" cy="101.90" r="1.60"/><circle cx="287.80" cy="97.75" r="1.60"/><circle cx="289.50" cy="96.90" r="1.60"/><circle cx="291.20" cy="100.25" r="1.60"/><circle cx="292.80" cy="100.25" r="1.60"/><circle cx="294.50" cy="99.80" r="1.60"/><circle cx="295.75" cy="106.50" r="1.60"/><circle cx="297.00" cy="108.20" r="1.60"/><circle cx="298.70" cy="109.00" r="1.60"/><circle cx="299.90" cy="106.10" r="1.60"/><circle cx="301.20" cy="97.30" r="1.60"/><circle cx="302.30" cy="100.50" r="1.60"/><circle cx="303.25" cy="106.50" r="1.60"/><circle cx="304.90" cy="100.70" r="1.60"/><circle cx="306.20" cy="96.90" r="1.60"/><circle cx="307.80" cy="97.30" r="1.60"/><circle cx="309.10" cy="104.00" r="1.60"/><circle cx="311.20" cy="110.25" r="1.60"/><circle cx="312.80" cy="103.20" r="1.60"/><circle cx="314.50" cy="98.20" r="1.60"/><circle cx="316.60" cy="98.20" r="1.60"/><circle cx="317.80" cy="101.50" r="1.60"/><circle cx="319.90" cy="99.80" r="1.60"/><circle cx="321.20" cy="104.80" r="1.60"/><circle cx="322.80" cy="103.80" r="1.60"/><circle cx="324.90" cy="104.00" r="1.60"/><circle cx="327.00" cy="103.20" r="1.60"/><circle cx="328.70" cy="104.40" r="1.60"/><circle cx="330.30" cy="102.30" r="1.60"/><circle cx="331.60" cy="99.40" r="1.60"/><circle cx="333.50" cy="97.30" r="1.60"/><circle cx="335.20" cy="100.70" r="1.60"/><circle cx="337.00" cy="98.60" r="1.60"/><circle cx="338.70" cy="102.30" r="1.60"/><circle cx="340.30" cy="107.30" r="1.60"/><circle cx="342.00" cy="116.50" r="1.60"/><circle cx="343.50" cy="127.50" r="1.60"/><circle cx="345.20" cy="127.00" r="1.60"/><circle cx="347.00" cy="122.80" r="1.60"/><circle cx="348.80" cy="126.30" r="1.60"/><circle cx="350.40" cy="122.50" r="1.60"/><circle cx="352.60" cy="126.60" r="1.60"/><circle cx="353.80" cy="114.00" r="1.60"/><circle cx="355.30" cy="98.80" r="1.60"/><circle cx="357.40" cy="102.75" r="1.60"/><circle cx="358.70" cy="108.20" r="1.60"/><circle cx="360.75" cy="108.60" r="1.60"/><circle cx="362.40" cy="116.50" r="1.60"/><circle cx="364.10" cy="123.50" r="1.60"/><circle cx="365.30" cy="108.60" r="1.60"/><circle cx="367.40" cy="111.50" r="1.60"/><circle cx="369.10" cy="108.20" r="1.60"/><circle cx="370.75" cy="101.10" r="1.60"/><circle cx="372.40" cy="104.40" r="1.60"/><circle cx="373.70" cy="109.00" r="1.60"/><circle cx="375.30" cy="104.40" r="1.60"/><circle cx="377.00" cy="108.20" r="1.60"/><circle cx="378.70" cy="104.00" r="1.60"/><circle cx="379.90" cy="116.50" r="1.60"/><circle cx="382.00" cy="116.90" r="1.60"/><circle cx="384.50" cy="112.75" r="1.60"/><circle cx="386.60" cy="109.40" r="1.60"/><circle cx="388.70" cy="111.10" r="1.60"/><circle cx="390.30" cy="111.50" r="1.60"/><circle cx="392.40" cy="109.80" r="1.60"/><circle cx="394.10" cy="106.90" r="1.60"/><circle cx="396.20" cy="105.70" r="1.60"/><circle cx="397.80" cy="104.80" r="1.60"/><circle cx="399.50" cy="104.00" r="1.60"/><circle cx="401.20" cy="100.25" r="1.60"/><circle cx="402.80" cy="101.50" r="1.60"/><circle cx="404.10" cy="110.70" r="1.60"/><circle cx="405.75" cy="104.80" r="1.60"/><circle cx="407.80" cy="100.25" r="1.60"/><circle cx="409.10" cy="103.60" r="1.60"/><circle cx="410.75" cy="104.00" r="1.60"/><circle cx="412.80" cy="100.70" r="1.60"/><circle cx="414.90" cy="99.40" r="1.60"/><circle cx="416.60" cy="102.75" r="1.60"/><circle cx="418.25" cy="99.00" r="1.60"/><circle cx="419.90" cy="101.10" r="1.60"/><circle cx="422.00" cy="100.80" r="1.60"/><circle cx="422.80" cy="104.00" r="1.60"/><circle cx="424.90" cy="101.90" r="1.60"/><circle cx="426.60" cy="105.25" r="1.60"/><circle cx="427.80" cy="108.60" r="1.60"/><circle cx="429.10" cy="101.10" r="1.60"/><circle cx="431.20" cy="99.00" r="1.60"/><circle cx="433.25" cy="101.10" r="1.60"/><circle cx="435.30" cy="98.60" r="1.60"/><circle cx="437.00" cy="98.20" r="1.60"/><circle cx="438.70" cy="101.90" r="1.60"/><circle cx="440.30" cy="104.00" r="1.60"/><circle cx="442.00" cy="105.25" r="1.60"/><circle cx="443.25" cy="109.80" r="1.60"/><circle cx="444.90" cy="105.25" r="1.60"/><circle cx="446.80" cy="101.90" r="1.60"/><circle cx="448.25" cy="106.50" r="1.60"/><circle cx="450.30" cy="104.80" r="1.60"/><circle cx="451.60" cy="119.00" r="1.60"/><circle cx="453.25" cy="111.10" r="1.60"/><circle cx="454.90" cy="112.30" r="1.60"/><circle cx="457.00" cy="108.20" r="1.60"/><circle cx="458.70" cy="106.10" r="1.60"/><circle cx="460.30" cy="107.30" r="1.60"/><circle cx="462.00" cy="106.10" r="1.60"/><circle cx="463.70" cy="110.70" r="1.60"/><circle cx="465.30" cy="108.60" r="1.60"/><circle cx="467.00" cy="111.50" r="1.60"/><circle cx="468.70" cy="106.10" r="1.60"/><circle cx="470.30" cy="107.30" r="1.60"/><circle cx="472.00" cy="111.10" r="1.60"/><circle cx="474.10" cy="109.00" r="1.60"/><circle cx="475.75" cy="110.25" r="1.60"/><circle cx="477.40" cy="111.10" r="1.60"/><circle cx="479.10" cy="113.60" r="1.60"/><circle cx="480.30" cy="108.60" r="1.60"/><circle cx="482.00" cy="106.50" r="1.60"/><circle cx="484.10" cy="104.40" r="1.60"/><circle cx="486.20" cy="106.50" r="1.60"/><circle cx="487.80" cy="106.50" r="1.60"/><circle cx="489.10" cy="108.20" r="1.60"/><circle cx="490.30" cy="104.80" r="1.60"/><circle cx="492.40" cy="104.00" r="1.60"/><circle cx="494.10" cy="101.10" r="1.60"/><circle cx="495.75" cy="102.30" r="1.60"/><circle cx="497.40" cy="105.70" r="1.60"/><circle cx="499.10" cy="101.50" r="1.60"/><circle cx="500.75" cy="106.90" r="1.60"/><circle cx="502.40" cy="114.00" r="1.60"/><circle cx="504.10" cy="108.60" r="1.60"/><circle cx="505.75" cy="104.80" r="1.60"/><circle cx="507.80" cy="101.50" r="1.60"/><circle cx="509.50" cy="106.50" r="1.60"/><circle cx="511.20" cy="113.20" r="1.60"/><circle cx="512.80" cy="109.80" r="1.60"/><circle cx="514.50" cy="104.40" r="1.60"/><circle cx="516.20" cy="99.00" r="1.60"/><circle cx="517.80" cy="96.90" r="1.60"/><circle cx="519.90" cy="97.30" r="1.60"/><circle cx="521.60" cy="97.30" r="1.60"/><circle cx="523.25" cy="94.80" r="1.60"/><circle cx="524.10" cy="95.70" r="1.60"/><circle cx="526.20" cy="96.50" r="1.60"/><circle cx="527.80" cy="96.50" r="1.60"/><circle cx="529.50" cy="97.75" r="1.60"/><circle cx="531.20" cy="94.80" r="1.60"/><circle cx="532.80" cy="92.75" r="1.60"/><circle cx="534.50" cy="90.25" r="1.60"/><circle cx="536.20" cy="95.70" r="1.60"/><circle cx="537.80" cy="90.70" r="1.60"/><circle cx="539.50" cy="90.25" r="1.60"/><circle cx="541.60" cy="92.30" r="1.60"/><circle cx="543.25" cy="91.50" r="1.60"/><circle cx="544.90" cy="92.30" r="1.60"/><circle cx="547.00" cy="93.60" r="1.60"/><circle cx="548.70" cy="94.80" r="1.60"/><circle cx="550.30" cy="99.40" r="1.60"/><circle cx="551.60" cy="104.40" r="1.60"/><circle cx="552.80" cy="104.40" r="1.60"/><circle cx="555.00" cy="113.75" r="1.60"/><circle cx="556.50" cy="105.00" r="1.60"/><circle cx="558.40" cy="99.70" r="1.60"/><circle cx="559.90" cy="105.00" r="1.60"/><circle cx="560.90" cy="111.90" r="1.60"/><circle cx="562.30" cy="126.00" r="1.60"/></g>
<path d="M75.75 117.75 L77.40 118.20 L79.50 117.30 L81.20 120.25 L82.80 109.40 L84.50 109.80 L86.20 110.25 L88.25 111.00 L89.50 140.00 L90.75 127.00 L92.00 125.30 L93.25 123.60 L94.90 121.00 L96.20 114.40 L98.00 110.25 L99.50 114.00 L100.30 117.30 L102.00 122.30 L104.90 121.00 L107.80 122.75 L110.30 121.90 L112.80 120.70 L115.30 119.80 L117.40 119.00 L119.50 122.30 L122.00 122.75 L123.25 124.50 L124.90 117.30 L127.40 118.20 L128.70 124.50 L130.30 129.90 L132.00 139.90 L133.70 139.90 L135.30 129.90 L137.00 127.40 L139.10 129.10 L141.60 128.25 L144.10 130.30 L145.30 109.80 L146.60 113.20 L148.70 114.40 L150.75 111.10 L152.40 108.60 L154.10 115.25 L155.75 118.20 L156.20 122.40 L157.40 130.30 L160.75 130.30 L162.40 139.10 L164.90 138.25 L167.40 139.10 L169.10 145.75 L171.20 148.70 L172.40 142.00 L173.50 121.00 L174.50 118.20 L176.20 117.30 L177.80 113.20 L179.50 105.25 L180.75 107.75 L182.40 108.20 L184.50 110.25 L185.75 114.40 L188.25 114.00 L189.90 114.80 L192.00 116.90 L194.10 116.10 L195.75 111.90 L197.40 111.10 L199.50 113.60 L201.20 109.40 L203.25 119.00 L204.90 114.00 L207.00 116.90 L209.10 117.30 L211.20 116.90 L212.80 124.00 L214.90 127.00 L217.00 123.70 L218.70 125.30 L220.30 121.50 L222.00 119.00 L224.10 117.30 L225.75 117.75 L228.70 121.50 L230.30 119.80 L232.00 121.50 L232.80 129.90 L234.50 129.90 L236.60 122.80 L238.25 129.10 L240.30 131.60 L242.40 129.10 L244.50 125.30 L247.00 124.90 L249.00 123.50 L250.75 122.00 L252.00 118.20 L254.10 114.80 L255.75 116.10 L257.80 118.20 L259.90 120.70 L262.40 119.80 L264.50 118.60 L266.60 117.75 L269.10 116.90 L270.75 119.40 L272.40 119.00 L273.25 123.25 L275.75 119.80 L278.00 121.00 L280.00 121.00 L281.60 119.00 L283.00 121.00 L284.50 112.75 L286.60 112.75 L287.80 120.70 L289.50 121.50 L291.20 128.25 L292.80 120.70 L294.50 117.30 L296.20 109.00 L297.80 113.60 L299.90 113.20 L301.60 119.00 L302.40 130.30 L304.10 129.10 L305.75 125.30 L307.80 125.30 L309.50 106.90 L311.20 101.90 L312.80 107.30 L314.90 109.80 L317.00 114.00 L318.25 118.20 L319.90 118.20 L321.60 107.75 L322.40 108.20 L323.70 119.80 L324.90 127.80 L326.60 129.50 L328.70 135.30 L329.90 124.10 L331.60 129.50 L333.70 129.50 L335.30 131.60 L337.00 130.75 L338.70 130.30 L340.30 135.30 L342.00 136.60 L343.70 138.25 L345.30 136.20 L347.00 133.70 L348.70 134.90 L350.75 134.10 L352.40 137.40 L354.10 138.25 L355.75 139.90 L357.00 144.10 L358.70 141.60 L360.30 137.40 L362.40 132.80 L364.10 135.30 L365.75 137.40 L367.40 138.25 L369.10 133.70 L370.75 131.20 L372.40 136.60 L374.10 134.30 L375.75 133.70 L377.40 142.00 L379.10 135.75 L380.30 99.80 L381.60 101.90 L383.70 103.20 L385.75 101.10 L387.80 101.50 L389.90 101.90 L392.00 102.30 L394.10 103.20 L395.75 108.20 L397.60 108.50 L399.50 108.20 L401.20 110.70 L402.40 115.25 L404.10 120.70 L405.75 115.70 L407.80 112.75 L409.90 114.00 L411.60 115.25 L413.25 115.25 L414.90 116.10 L416.60 109.00 L418.25 122.50 L419.90 118.20 L421.60 111.50 L423.25 109.80 L424.90 118.20 L426.20 127.80 L428.25 106.50 L429.90 115.70 L431.20 126.20 L433.25 132.00 L434.90 135.30 L436.60 139.90 L438.70 139.90 L439.90 144.10 L441.60 149.10 L443.25 154.10 L444.90 145.30 L446.60 136.20 L448.25 148.70 L450.30 149.10 L452.00 157.40 L453.25 136.60 L455.30 136.60 L457.00 131.60 L458.70 127.00 L460.30 127.00 L462.40 125.30 L463.70 129.50 L465.30 132.40 L467.40 135.75 L469.10 138.70 L470.75 143.70 L472.40 146.60 L473.70 136.60 L475.75 132.40 L477.40 138.25 L479.10 150.75 L480.75 149.50 L482.40 146.20 L484.10 142.80 L486.20 142.00 L488.25 142.40 L490.30 140.75 L492.40 139.50 L494.10 137.40 L495.75 134.50 L497.40 139.10 L499.10 137.00 L500.75 144.10 L502.80 147.00 L504.50 139.10 L506.00 125.30 L507.80 131.20 L509.50 134.10 L511.20 144.10 L512.80 144.50 L514.50 138.70 L516.20 137.00 L517.80 137.40 L519.50 131.20 L521.20 128.25 L522.80 127.50 L524.50 129.90 L526.20 132.40 L528.25 134.90 L529.90 139.10 L531.60 142.40 L533.25 141.20 L534.90 135.75 L535.75 125.30 L536.60 116.90 L537.80 125.30 L539.90 123.25 L541.60 129.90 L542.60 121.00 L544.50 117.75 L546.60 116.90 L548.40 110.90 L550.00 110.00 L552.00 111.10 L553.10 110.60 L555.00 102.50 L556.60 108.10 L558.40 117.80 L560.00 108.10 L561.90 104.40" fill="none" stroke="#28ae28" stroke-width="1" stroke-linejoin="round"/>
<g fill="#28ae28"><circle cx="75.75" cy="117.75" r="1.60"/><circle cx="77.40" cy="118.20" r="1.60"/><circle cx="79.50" cy="117.30" r="1.60"/><circle cx="81.20" cy="120.25" r="1.60"/><circle cx="82.80" cy="109.40" r="1.60"/><circle cx="84.50" cy="109.80" r="1.60"/><circle cx="86.20" cy="110.25" r="1.60"/><circle cx="88.25" cy="111.00" r="1.60"/><circle cx="89.50" cy="140.00" r="1.60"/><circle cx="90.75" cy="127.00" r="1.60"/><circle cx="92.00" cy="125.30" r="1.60"/><circle cx="93.25" cy="123.60" r="1.60"/><circle cx="94.90" cy="121.00" r="1.60"/><circle cx="96.20" cy="114.40" r="1.60"/><circle cx="98.00" cy="110.25" r="1.60"/><circle cx="99.50" cy="114.00" r="1.60"/><circle cx="100.30" cy="117.30" r="1.60"/><circle cx="102.00" cy="122.30" r="1.60"/><circle cx="104.90" cy="121.00" r="1.60"/><circle cx="107.80" cy="122.75" r="1.60"/><circle cx="110.30" cy="121.90" r="1.60"/><circle cx="112.80" cy="120.70" r="1.60"/><circle cx="115.30" cy="119.80" r="1.60"/><circle cx="117.40" cy="119.00" r="1.60"/><circle cx="119.50" cy="122.30" r="1.60"/><circle cx="122.00" cy="122.75" r="1.60"/><circle cx="123.25" cy="124.50" r="1.60"/><circle cx="124.90" cy="117.30" r="1.60"/><circle cx="127.40" cy="118.20" r="1.60"/><circle cx="128.70" cy="124.50" r="1.60"/><circle cx="130.30" cy="129.90" r="1.60"/><circle cx="132.00" cy="139.90" r="1.60"/><circle cx="133.70" cy="139.90" r="1.60"/><circle cx="135.30" cy="129.90" r="1.60"/><circle cx="137.00" cy="127.40" r="1.60"/><circle cx="139.10" cy="129.10" r="1.60"/><circle cx="141.60" cy="128.25" r="1.60"/><circle cx="144.10" cy="130.30" r="1.60"/><circle cx="145.30" cy="109.80" r="1.60"/><circle cx="146.60" cy="113.20" r="1.60"/><circle cx="148.70" cy="114.40" r="1.60"/><circle cx="150.75" cy="111.10" r="1.60"/><circle cx="152.40" cy="108.60" r="1.60"/><circle cx="154.10" cy="115.25" r="1.60"/><circle cx="155.75" cy="118.20" r="1.60"/><circle cx="156.20" cy="122.40" r="1.60"/><circle cx="157.40" cy="130.30" r="1.60"/><circle cx="160.75" cy="130.30" r="1.60"/><circle cx="162.40" cy="139.10" r="1.60"/><circle cx="164.90" cy="138.25" r="1.60"/><circle cx="167.40" cy="139.10" r="1.60"/><circle cx="169.10" cy="145.75" r="1.60"/><circle cx="171.20" cy="148.70" r="1.60"/><circle cx="172.40" cy="142.00" r="1.60"/><circle cx="173.50" cy="121.00" r="1.60"/><circle cx="174.50" cy="118.20" r="1.60"/><circle cx="176.20" cy="117.30" r="1.60"/><circle cx="177.80" cy="113.20" r="1.60"/><circle cx="179.50" cy="105.25" r="1.60"/><circle cx="180.75" cy="107.75" r="1.60"/><circle cx="182.40" cy="108.20" r="1.60"/><circle cx="184.50" cy="110.25" r="1.60"/><circle cx="185.75" cy="114.40" r="1.60"/><circle cx="188.25" cy="114.00" r="1.60"/><circle cx="189.90" cy="114.80" r="1.60"/><circle cx="192.00" cy="116.90" r="1.60"/><circle cx="194.10" cy="116.10" r="1.60"/><circle cx="195.75" cy="111.90" r="1.60"/><circle cx="197.40" cy="111.10" r="1.60"/><circle cx="199.50" cy="113.60" r="1.60"/><circle cx="201.20" cy="109.40" r="1.60"/><circle cx="203.25" cy="119.00" r="1.60"/><circle cx="204.90" cy="114.00" r="1.60"/><circle cx="207.00" cy="116.90" r="1.60"/><circle cx="209.10" cy="117.30" r="1.60"/><circle cx="211.20" cy="116.90" r="1.60"/><circle cx="212.80" cy="124.00" r="1.60"/><circle cx="214.90" cy="127.00" r="1.60"/><circle cx="217.00" cy="123.70" r="1.60"/><circle cx="218.70" cy="125.30" r="1.60"/><circle cx="220.30" cy="121.50" r="1.60"/><circle cx="222.00" cy="119.00" r="1.60"/><circle cx="224.10" cy="117.30" r="1.60"/><circle cx="225.75" cy="117.75" r="1.60"/><circle cx="228.70" cy="121.50" r="1.60"/><circle cx="230.30" cy="119.80" r="1.60"/><circle cx="232.00" cy="121.50" r="1.60"/><circle cx="232.80" cy="129.90" r="1.60"/><circle cx="234.50" cy="129.90" r="1.60"/><circle cx="236.60" cy="122.80" r="1.60"/><circle cx="238.25" cy="129.10" r="1.60"/><circle cx="240.30" cy="131.60" r="1.60"/><circle cx="242.40" cy="129.10" r="1.60"/><circle cx="244.50" cy="125.30" r="1.60"/><circle cx="247.00" cy="124.90" r="1.60"/><circle cx="249.00" cy="123.50" r="1.60"/><circle cx="250.75" cy="122.00" r="1.60"/><circle cx="252.00" cy="118.20" r="1.60"/><circle cx="254.10" cy="114.80" r="1.60"/><circle cx="255.75" cy="116.10" r="1.60"/><circle cx="257.80" cy="118.20" r="1.60"/><circle cx="259.90" cy="120.70" r="1.60"/><circle cx="262.40" cy="119.80" r="1.60"/><circle cx="264.50" cy="118.60" r="1.60"/><circle cx="266.60" cy="117.75" r="1.60"/><circle cx="269.10" cy="116.90" r="1.60"/><circle cx="270.75" cy="119.40" r="1.60"/><circle cx="272.40" cy="119.00" r="1.60"/><circle cx="273.25" cy="123.25" r="1.60"/><circle cx="275.75" cy="119.80" r="1.60"/><circle cx="278.00" cy="121.00" r="1.60"/><circle cx="280.00" cy="121.00" r="1.60"/><circle cx="281.60" cy="119.00" r="1.60"/><circle cx="283.00" cy="121.00" r="1.60"/><circle cx="284.50" cy="112.75" r="1.60"/><circle cx="286.60" cy="112.75" r="1.60"/><circle cx="287.80" cy="120.70" r="1.60"/><circle cx="289.50" cy="121.50" r="1.60"/><circle cx="291.20" cy="128.25" r="1.60"/><circle cx="292.80" cy="120.70" r="1.60"/><circle cx="294.50" cy="117.30" r="1.60"/><circle cx="296.20" cy="109.00" r="1.60"/><circle cx="297.80" cy="113.60" r="1.60"/><circle cx="299.90" cy="113.20" r="1.60"/><circle cx="301.60" cy="119.00" r="1.60"/><circle cx="302.40" cy="130.30" r="1.60"/><circle cx="304.10" cy="129.10" r="1.60"/><circle cx="305.75" cy="125.30" r="1.60"/><circle cx="307.80" cy="125.30" r="1.60"/><circle cx="309.50" cy="106.90" r="1.60"/><circle cx="311.20" cy="101.90" r="1.60"/><circle cx="312.80" cy="107.30" r="1.60"/><circle cx="314.90" cy="109.80" r="1.60"/><circle cx="317.00" cy="114.00" r="1.60"/><circle cx="318.25" cy="118.20" r="1.60"/><circle cx="319.90" cy="118.20" r="1.60"/><circle cx="321.60" cy="107.75" r="1.60"/><circle cx="322.40" cy="108.20" r="1.60"/><circle cx="323.70" cy="119.80" r="1.60"/><circle cx="324.90" cy="127.80" r="1.60"/><circle cx="326.60" cy="129.50" r="1.60"/><circle cx="328.70" cy="135.30" r="1.60"/><circle cx="329.90" cy="124.10" r="1.60"/><circle cx="331.60" cy="129.50" r="1.60"/><circle cx="333.70" cy="129.50" r="1.60"/><circle cx="335.30" cy="131.60" r="1.60"/><circle cx="337.00" cy="130.75" r="1.60"/><circle cx="338.70" cy="130.30" r="1.60"/><circle cx="340.30" cy="135.30" r="1.60"/><circle cx="342.00" cy="136.60" r="1.60"/><circle cx="343.70" cy="138.25" r="1.60"/><circle cx="345.30" cy="136.20" r="1.60"/><circle cx="347.00" cy="133.70" r="1.60"/><circle cx="348.70" cy="134.90" r="1.60"/><circle cx="350.75" cy="134.10" r="1.60"/><circle cx="352.40" cy="137.40" r="1.60"/><circle cx="354.10" cy="138.25" r="1.60"/><circle cx="355.75" cy="139.90" r="1.60"/><circle cx="357.00" cy="144.10" r="1.60"/><circle cx="358.70" cy="141.60" r="1.60"/><circle cx="360.30" cy="137.40" r="1.60"/><circle cx="362.40" cy="132.80" r="1.60"/><circle cx="364.10" cy="135.30" r="1.60"/><circle cx="365.75" cy="137.40" r="1.60"/><circle cx="367.40" cy="138.25" r="1.60"/><circle cx="369.10" cy="133.70" r="1.60"/><circle cx="370.75" cy="131.20" r="1.60"/><circle cx="372.40" cy="136.60" r="1.60"/><circle cx="374.10" cy="134.30" r="1.60"/><circle cx="375.75" cy="133.70" r="1.60"/><circle cx="377.40" cy="142.00" r="1.60"/><circle cx="379.10" cy="135.75" r="1.60"/><circle cx="380.30" cy="99.80" r="1.60"/><circle cx="381.60" cy="101.90" r="1.60"/><circle cx="383.70" cy="103.20" r="1.60"/><circle cx="385.75" cy="101.10" r="1.60"/><circle cx="387.80" cy="101.50" r="1.60"/><circle cx="389.90" cy="101.90" r="1.60"/><circle cx="392.00" cy="102.30" r="1.60"/><circle cx="394.10" cy="103.20" r="1.60"/><circle cx="395.75" cy="108.20" r="1.60"/><circle cx="397.60" cy="108.50" r="1.60"/><circle cx="399.50" cy="108.20" r="1.60"/><circle cx="401.20" cy="110.70" r="1.60"/><circle cx="402.40" cy="115.25" r="1.60"/><circle cx="404.10" cy="120.70" r="1.60"/><circle cx="405.75" cy="115.70" r="1.60"/><circle cx="407.80" cy="112.75" r="1.60"/><circle cx="409.90" cy="114.00" r="1.60"/><circle cx="411.60" cy="115.25" r="1.60"/><circle cx="413.25" cy="115.25" r="1.60"/><circle cx="414.90" cy="116.10" r="1.60"/><circle cx="416.60" cy="109.00" r="1.60"/><circle cx="418.25" cy="122.50" r="1.60"/><circle cx="419.90" cy="118.20" r="1.60"/><circle cx="421.60" cy="111.50" r="1.60"/><circle cx="423.25" cy="109.80" r="1.60"/><circle cx="424.90" cy="118.20" r="1.60"/><circle cx="426.20" cy="127.80" r="1.60"/><circle cx="428.25" cy="106.50" r="1.60"/><circle cx="429.90" cy="115.70" r="1.60"/><circle cx="431.20" cy="126.20" r="1.60"/><circle cx="433.25" cy="132.00" r="1.60"/><circle cx="434.90" cy="135.30" r="1.60"/><circle cx="436.60" cy="139.90" r="1.60"/><circle cx="438.70" cy="139.90" r="1.60"/><circle cx="439.90" cy="144.10" r="1.60"/><circle cx="441.60" cy="149.10" r="1.60"/><circle cx="443.25" cy="154.10" r="1.60"/><circle cx="444.90" cy="145.30" r="1.60"/><circle cx="446.60" cy="136.20" r="1.60"/><circle cx="448.25" cy="148.70" r="1.60"/><circle cx="450.30" cy="149.10" r="1.60"/><circle cx="452.00" cy="157.40" r="1.60"/><circle cx="453.25" cy="136.60" r="1.60"/><circle cx="455.30" cy="136.60" r="1.60"/><circle cx="457.00" cy="131.60" r="1.60"/><circle cx="458.70" cy="127.00" r="1.60"/><circle cx="460.30" cy="127.00" r="1.60"/><circle cx="462.40" cy="125.30" r="1.60"/><circle cx="463.70" cy="129.50" r="1.60"/><circle cx="465.30" cy="132.40" r="1.60"/><circle cx="467.40" cy="135.75" r="1.60"/><circle cx="469.10" cy="138.70" r="1.60"/><circle cx="470.75" cy="143.70" r="1.60"/><circle cx="472.40" cy="146.60" r="1.60"/><circle cx="473.70" cy="136.60" r="1.60"/><circle cx="475.75" cy="132.40" r="1.60"/><circle cx="477.40" cy="138.25" r="1.60"/><circle cx="479.10" cy="150.75" r="1.60"/><circle cx="480.75" cy="149.50" r="1.60"/><circle cx="482.40" cy="146.20" r="1.60"/><circle cx="484.10" cy="142.80" r="1.60"/><circle cx="486.20" cy="142.00" r="1.60"/><circle cx="488.25" cy="142.40" r="1.60"/><circle cx="490.30" cy="140.75" r="1.60"/><circle cx="492.40" cy="139.50" r="1.60"/><circle cx="494.10" cy="137.40" r="1.60"/><circle cx="495.75" cy="134.50" r="1.60"/><circle cx="497.40" cy="139.10" r="1.60"/><circle cx="499.10" cy="137.00" r="1.60"/><circle cx="500.75" cy="144.10" r="1.60"/><circle cx="502.80" cy="147.00" r="1.60"/><circle cx="504.50" cy="139.10" r="1.60"/><circle cx="506.00" cy="125.30" r="1.60"/><circle cx="507.80" cy="131.20" r="1.60"/><circle cx="509.50" cy="134.10" r="1.60"/><circle cx="511.20" cy="144.10" r="1.60"/><circle cx="512.80" cy="144.50" r="1.60"/><circle cx="514.50" cy="138.70" r="1.60"/><circle cx="516.20" cy="137.00" r="1.60"/><circle cx="517.80" cy="137.40" r="1.60"/><circle cx="519.50" cy="131.20" r="1.60"/><circle cx="521.20" cy="128.25" r="1.60"/><circle cx="522.80" cy="127.50" r="1.60"/><circle cx="524.50" cy="129.90" r="1.60"/><circle cx="526.20" cy="132.40" r="1.60"/><circle cx="528.25" cy="134.90" r="1.60"/><circle cx="529.90" cy="139.10" r="1.60"/><circle cx="531.60" cy="142.40" r="1.60"/><circle cx="533.25" cy="141.20" r="1.60"/><circle cx="534.90" cy="135.75" r="1.60"/><circle cx="535.75" cy="125.30" r="1.60"/><circle cx="536.60" cy="116.90" r="1.60"/><circle cx="537.80" cy="125.30" r="1.60"/><circle cx="539.90" cy="123.25" r="1.60"/><circle cx="541.60" cy="129.90" r="1.60"/><circle cx="542.60" cy="121.00" r="1.60"/><circle cx="544.50" cy="117.75" r="1.60"/><circle cx="546.60" cy="116.90" r="1.60"/><circle cx="548.40" cy="110.90" r="1.60"/><circle cx="550.00" cy="110.00" r="1.60"/><circle cx="552.00" cy="111.10" r="1.60"/><circle cx="553.10" cy="110.60" r="1.60"/><circle cx="555.00" cy="102.50" r="1.60"/><circle cx="556.60" cy="108.10" r="1.60"/><circle cx="558.40" cy="117.80" r="1.60"/><circle cx="560.00" cy="108.10" r="1.60"/><circle cx="561.90" cy="104.40" r="1.60"/></g>
<rect x="528.5" y="34.5" width="50" height="34" rx="2" ry="2" fill="#fff" stroke="#000" stroke-width="1"/>
<line x1="532" y1="39.50" x2="544" y2="43.50" stroke="#b22222" stroke-width="1.25"/>
<circle cx="537.5" cy="41.20" r="1.7" fill="#b22222"/>
<text class="t" transform="translate(547.90 43.80) scale(1 1.100)" text-anchor="start" textLength="8.00" lengthAdjust="spacing" >Bx</text>
<text class="t" transform="translate(560.90 43.80) scale(1 1.100)" text-anchor="start" textLength="15.10" lengthAdjust="spacing" >GSE</text>
<line x1="532" y1="49.50" x2="544" y2="53.50" stroke="#a8a81c" stroke-width="1.25"/>
<circle cx="537.5" cy="51.20" r="1.7" fill="#a8a81c"/>
<text class="t" transform="translate(547.90 53.60) scale(1 1.100)" text-anchor="start" textLength="8.90" lengthAdjust="spacing" >By</text>
<text class="t" transform="translate(560.90 53.60) scale(1 1.100)" text-anchor="start" textLength="15.10" lengthAdjust="spacing" >GSE</text>
<line x1="532" y1="59.50" x2="544" y2="63.50" stroke="#28ae28" stroke-width="1.25"/>
<circle cx="537.5" cy="61.20" r="1.7" fill="#28ae28"/>
<text class="t" transform="translate(547.90 63.50) scale(1 1.100)" text-anchor="start" textLength="8.90" lengthAdjust="spacing" >Bz</text>
<text class="t" transform="translate(559.90 63.50) scale(1 1.100)" text-anchor="start" textLength="15.10" lengthAdjust="spacing" >GSE</text>
<rect x="56.5" y="252.5" width="528" height="188" fill="none" stroke="#000" stroke-width="1"/>
<line x1="50" y1="440.5" x2="56" y2="440.5" stroke="#000" stroke-width="1"/>
<line x1="53" y1="430.5" x2="56" y2="430.5" stroke="#000" stroke-width="1"/>
<line x1="53" y1="421.5" x2="56" y2="421.5" stroke="#000" stroke-width="1"/>
<line x1="53" y1="411.5" x2="56" y2="411.5" stroke="#000" stroke-width="1"/>
<line x1="53" y1="402.5" x2="56" y2="402.5" stroke="#000" stroke-width="1"/>
<line x1="50" y1="393.5" x2="56" y2="393.5" stroke="#000" stroke-width="1"/>
<line x1="53" y1="383.5" x2="56" y2="383.5" stroke="#000" stroke-width="1"/>
<line x1="53" y1="374.5" x2="56" y2="374.5" stroke="#000" stroke-width="1"/>
<line x1="53" y1="364.5" x2="56" y2="364.5" stroke="#000" stroke-width="1"/>
<line x1="53" y1="355.5" x2="56" y2="355.5" stroke="#000" stroke-width="1"/>
<line x1="50" y1="346.5" x2="56" y2="346.5" stroke="#000" stroke-width="1"/>
<line x1="53" y1="336.5" x2="56" y2="336.5" stroke="#000" stroke-width="1"/>
<line x1="53" y1="327.5" x2="56" y2="327.5" stroke="#000" stroke-width="1"/>
<line x1="53" y1="317.5" x2="56" y2="317.5" stroke="#000" stroke-width="1"/>
<line x1="53" y1="308.5" x2="56" y2="308.5" stroke="#000" stroke-width="1"/>
<line x1="50" y1="299.5" x2="56" y2="299.5" stroke="#000" stroke-width="1"/>
<line x1="53" y1="289.5" x2="56" y2="289.5" stroke="#000" stroke-width="1"/>
<line x1="53" y1="280.5" x2="56" y2="280.5" stroke="#000" stroke-width="1"/>
<line x1="53" y1="270.5" x2="56" y2="270.5" stroke="#000" stroke-width="1"/>
<line x1="53" y1="261.5" x2="56" y2="261.5" stroke="#000" stroke-width="1"/>
<line x1="50" y1="252.5" x2="56" y2="252.5" stroke="#000" stroke-width="1"/>
<line x1="56.5" y1="441" x2="56.5" y2="444" stroke="#000" stroke-width="1"/>
<line x1="76.5" y1="441" x2="76.5" y2="447" stroke="#000" stroke-width="1"/>
<line x1="96.5" y1="441" x2="96.5" y2="444" stroke="#000" stroke-width="1"/>
<line x1="116.5" y1="441" x2="116.5" y2="444" stroke="#000" stroke-width="1"/>
<line x1="137.5" y1="441" x2="137.5" y2="444" stroke="#000" stroke-width="1"/>
<line x1="157.5" y1="441" x2="157.5" y2="444" stroke="#000" stroke-width="1"/>
<line x1="177.5" y1="441" x2="177.5" y2="444" stroke="#000" stroke-width="1"/>
<line x1="198.5" y1="441" x2="198.5" y2="447" stroke="#000" stroke-width="1"/>
<line x1="218.5" y1="441" x2="218.5" y2="444" stroke="#000" stroke-width="1"/>
<line x1="238.5" y1="441" x2="238.5" y2="444" stroke="#000" stroke-width="1"/>
<line x1="259.5" y1="441" x2="259.5" y2="444" stroke="#000" stroke-width="1"/>
<line x1="279.5" y1="441" x2="279.5" y2="444" stroke="#000" stroke-width="1"/>
<line x1="299.5" y1="441" x2="299.5" y2="444" stroke="#000" stroke-width="1"/>
<line x1="320.5" y1="441" x2="320.5" y2="447" stroke="#000" stroke-width="1"/>
<line x1="340.5" y1="441" x2="340.5" y2="444" stroke="#000" stroke-width="1"/>
<line x1="360.5" y1="441" x2="360.5" y2="444" stroke="#000" stroke-width="1"/>
<line x1="380.5" y1="441" x2="380.5" y2="444" stroke="#000" stroke-width="1"/>
<line x1="401.5" y1="441" x2="401.5" y2="444" stroke="#000" stroke-width="1"/>
<line x1="421.5" y1="441" x2="421.5" y2="444" stroke="#000" stroke-width="1"/>
<line x1="441.5" y1="441" x2="441.5" y2="447" stroke="#000" stroke-width="1"/>
<line x1="462.5" y1="441" x2="462.5" y2="444" stroke="#000" stroke-width="1"/>
<line x1="482.5" y1="441" x2="482.5" y2="444" stroke="#000" stroke-width="1"/>
<line x1="502.5" y1="441" x2="502.5" y2="444" stroke="#000" stroke-width="1"/>
<line x1="523.5" y1="441" x2="523.5" y2="444" stroke="#000" stroke-width="1"/>
<line x1="543.5" y1="441" x2="543.5" y2="444" stroke="#000" stroke-width="1"/>
<line x1="563.5" y1="441" x2="563.5" y2="447" stroke="#000" stroke-width="1"/>
<line x1="584.5" y1="441" x2="584.5" y2="444" stroke="#000" stroke-width="1"/>
<text class="t" transform="translate(46.30 255.20) scale(1 1.100)" text-anchor="end" textLength="9.20" lengthAdjust="spacing" >10</text>
<text class="t" transform="translate(46.30 302.20) scale(1 1.100)" text-anchor="end" textLength="4.20" lengthAdjust="spacing" >5</text>
<text class="t" transform="translate(46.30 349.20) scale(1 1.100)" text-anchor="end" textLength="4.20" lengthAdjust="spacing" >0</text>
<text class="t" transform="translate(46.30 396.20) scale(1 1.100)" text-anchor="end" textLength="7.30" lengthAdjust="spacing" >-5</text>
<text class="t" transform="translate(46.30 443.20) scale(1 1.100)" text-anchor="end" textLength="12.10" lengthAdjust="spacing" >-10</text>
<text class="t" transform="translate(76.50 457.60) scale(1 1.100)" text-anchor="middle" textLength="22.00" lengthAdjust="spacing" >00:00</text>
<text class="t" transform="translate(198.50 457.60) scale(1 1.100)" text-anchor="middle" textLength="22.00" lengthAdjust="spacing" >06:00</text>
<text class="t" transform="translate(320.50 457.60) scale(1 1.100)" text-anchor="middle" textLength="22.00" lengthAdjust="spacing" >12:00</text>
<text class="t" transform="translate(441.50 457.60) scale(1 1.100)" text-anchor="middle" textLength="22.00" lengthAdjust="spacing" >18:00</text>
<text class="t" transform="translate(563.50 457.60) scale(1 1.100)" text-anchor="middle" textLength="22.00" lengthAdjust="spacing" >00:00</text>
<text class="t" transform="translate(65.80 466.00) scale(1 1.100)" text-anchor="start" textLength="45.20" lengthAdjust="spacing" >2008-06-02</text>
<text class="t" transform="translate(553.00 466.00) scale(1 1.100)" text-anchor="start" textLength="45.40" lengthAdjust="spacing" >2008-06-03</text>
<text class="t" transform="translate(230.20 245.80) scale(1 1.100)" text-anchor="start" textLength="179.80" lengthAdjust="spacing" >AC/MFI&#160;&#160;Magnetic Field, Cartesian GSE coord</text>
<text class="t" transform="translate(27,345.50) rotate(-90) scale(1 1.1)" text-anchor="middle" font-size="7.6">nT</text>
<path d="M76.20 356.20 L77.80 346.00 L79.70 349.90 L81.60 344.90 L84.50 324.80 L86.60 316.50 L88.70 329.40 L89.50 372.80 L91.60 373.25 L93.25 368.25 L94.90 357.00 L96.40 341.50 L98.25 324.00 L99.90 328.20 L101.20 320.70 L103.25 317.30 L105.30 317.20 L107.00 318.60 L108.70 319.80 L110.30 317.75 L112.00 319.80 L113.25 324.40 L114.90 325.70 L116.60 326.50 L118.70 328.60 L119.90 339.00 L120.20 346.30 L121.80 354.30 L123.70 356.20 L125.30 360.75 L127.00 342.40 L128.70 336.90 L130.30 343.70 L132.00 345.30 L134.10 345.30 L135.30 347.80 L137.40 342.80 L138.70 351.20 L140.30 362.80 L142.00 359.90 L143.80 355.30 L145.75 359.90 L147.40 364.10 L149.10 368.70 L150.75 366.20 L152.40 363.70 L154.10 367.00 L155.75 368.25 L157.40 373.25 L159.10 374.90 L160.75 376.20 L162.40 374.10 L164.10 373.25 L165.75 374.90 L167.40 375.30 L169.10 370.75 L171.20 368.70 L172.80 369.30 L174.50 362.50 L176.20 359.90 L177.80 359.90 L179.50 342.00 L181.20 348.25 L182.40 334.80 L184.10 316.50 L186.20 313.60 L188.25 315.25 L189.50 318.20 L191.60 318.30 L192.80 322.30 L194.50 323.60 L196.20 324.80 L198.25 323.60 L199.90 321.50 L201.60 321.50 L203.25 319.00 L204.90 317.20 L206.60 317.75 L208.25 320.25 L209.50 324.00 L211.20 330.70 L212.80 330.70 L214.50 332.30 L216.20 326.50 L218.25 328.20 L219.90 327.30 L221.60 330.70 L223.25 331.10 L225.30 330.25 L227.00 335.00 L229.90 338.20 L232.40 339.80 L233.70 351.00 L234.50 343.00 L236.60 336.90 L238.70 361.20 L239.90 366.20 L242.00 365.75 L244.10 366.20 L245.75 361.60 L247.00 357.00 L249.10 359.10 L250.75 360.30 L252.80 362.00 L254.10 362.80 L255.75 361.20 L257.80 364.50 L259.10 370.30 L260.75 374.50 L262.40 376.20 L264.10 375.30 L265.75 373.70 L267.40 372.00 L269.50 369.90 L271.20 365.30 L272.80 367.00 L274.10 368.70 L276.20 362.80 L277.00 335.70 L279.10 334.40 L280.75 334.80 L282.40 331.90 L284.00 338.00 L285.75 341.50 L287.80 347.40 L289.50 348.70 L291.20 350.30 L292.40 337.30 L294.50 354.90 L295.75 342.80 L297.40 324.00 L299.10 346.60 L300.75 347.80 L302.80 365.30 L304.90 362.80 L306.60 354.90 L308.25 348.70 L309.90 342.80 L311.60 343.70 L313.70 346.60 L314.90 350.30 L316.60 352.80 L318.25 355.75 L319.90 359.10 L321.60 370.30 L322.40 370.75 L324.50 372.40 L326.60 370.75 L328.25 367.00 L330.30 365.30 L331.80 357.80 L333.70 360.75 L335.20 363.25 L336.80 359.90 L338.70 363.70 L340.30 369.10 L341.80 375.30 L343.70 377.00 L345.30 376.60 L347.00 377.40 L349.10 374.50 L351.20 374.90 L353.70 374.10 L354.90 361.60 L357.40 366.20 L359.10 369.50 L360.75 372.00 L362.00 374.90 L363.70 379.50 L364.90 375.30 L366.60 377.80 L369.50 374.50 L371.20 372.00 L372.40 372.00 L374.10 374.10 L375.75 370.30 L377.40 368.25 L379.50 365.75 L382.40 329.00 L384.50 333.60 L387.40 328.20 L389.50 326.50 L391.60 326.10 L393.70 340.70 L395.30 342.30 L397.00 338.20 L398.70 332.30 L399.90 331.50 L401.20 346.60 L402.80 354.50 L404.50 361.60 L406.20 352.80 L407.80 349.10 L409.50 354.50 L411.20 355.30 L412.80 353.25 L414.50 355.75 L416.20 355.30 L417.80 354.90 L419.50 348.25 L421.60 350.30 L423.50 353.00 L424.50 361.40 L426.60 367.80 L427.80 361.20 L429.90 362.40 L432.00 363.70 L433.70 364.50 L434.90 359.50 L436.60 354.10 L438.25 356.60 L439.90 348.25 L441.60 343.25 L443.70 346.60 L445.30 352.00 L447.00 354.00 L448.70 353.70 L450.30 346.20 L452.00 342.50 L454.10 367.00 L455.30 371.60 L457.80 371.60 L460.30 371.20 L462.00 369.50 L463.70 374.50 L465.30 373.25 L467.00 375.30 L468.70 371.20 L470.30 369.10 L472.00 369.30 L473.70 373.70 L475.75 375.75 L477.40 374.50 L479.10 370.75 L481.20 371.20 L483.25 372.00 L485.30 373.25 L487.40 374.50 L489.10 375.30 L490.75 374.10 L492.40 374.10 L494.10 372.80 L495.75 374.10 L497.80 374.50 L499.50 371.20 L501.20 373.25 L502.80 374.90 L504.50 374.90 L506.20 375.75 L507.80 374.10 L509.50 376.20 L511.20 375.75 L512.80 374.50 L514.50 372.80 L516.20 369.90 L517.80 367.80 L519.50 368.70 L521.20 364.10 L522.80 363.50 L524.50 362.50 L526.60 362.40 L527.80 359.10 L529.50 358.00 L531.60 356.60 L533.25 354.10 L534.50 349.90 L535.30 342.40 L536.40 332.00 L538.75 338.10 L541.00 341.00 L543.00 342.00 L545.00 341.90 L547.00 339.40 L548.70 338.20 L550.00 337.20 L551.90 327.80 L553.25 328.20 L555.00 330.00 L556.60 329.00 L558.40 332.20 L560.00 331.00 L562.50 328.10" fill="none" stroke="#b22222" stroke-width="1" stroke-linejoin="round"/>
<g fill="#b22222"><circle cx="76.20" cy="356.20" r="1.60"/><circle cx="77.80" cy="346.00" r="1.60"/><circle cx="79.70" cy="349.90" r="1.60"/><circle cx="81.60" cy="344.90" r="1.60"/><circle cx="84.50" cy="324.80" r="1.60"/><circle cx="86.60" cy="316.50" r="1.60"/><circle cx="88.70" cy="329.40" r="1.60"/><circle cx="89.50" cy="372.80" r="1.60"/><circle cx="91.60" cy="373.25" r="1.60"/><circle cx="93.25" cy="368.25" r="1.60"/><circle cx="94.90" cy="357.00" r="1.60"/><circle cx="96.40" cy="341.50" r="1.60"/><circle cx="98.25" cy="324.00" r="1.60"/><circle cx="99.90" cy="328.20" r="1.60"/><circle cx="101.20" cy="320.70" r="1.60"/><circle cx="103.25" cy="317.30" r="1.60"/><circle cx="105.30" cy="317.20" r="1.60"/><circle cx="107.00" cy="318.60" r="1.60"/><circle cx="108.70" cy="319.80" r="1.60"/><circle cx="110.30" cy="317.75" r="1.60"/><circle cx="112.00" cy="319.80" r="1.60"/><circle cx="113.25" cy="324.40" r="1.60"/><circle cx="114.90" cy="325.70" r="1.60"/><circle cx="116.60" cy="326.50" r="1.60"/><circle cx="118.70" cy="328.60" r="1.60"/><circle cx="119.90" cy="339.00" r="1.60"/><circle cx="120.20" cy="346.30" r="1.60"/><circle cx="121.80" cy="354.30" r="1.60"/><circle cx="123.70" cy="356.20" r="1.60"/><circle cx="125.30" cy="360.75" r="1.60"/><circle cx="127.00" cy="342.40" r="1.60"/><circle cx="128.70" cy="336.90" r="1.60"/><circle cx="130.30" cy="343.70" r="1.60"/><circle cx="132.00" cy="345.30" r="1.60"/><circle cx="134.10" cy="345.30" r="1.60"/><circle cx="135.30" cy="347.80" r="1.60"/><circle cx="137.40" cy="342.80" r="1.60"/><circle cx="138.70" cy="351.20" r="1.60"/><circle cx="140.30" cy="362.80" r="1.60"/><circle cx="142.00" cy="359.90" r="1.60"/><circle cx="143.80" cy="355.30" r="1.60"/><circle cx="145.75" cy="359.90" r="1.60"/><circle cx="147.40" cy="364.10" r="1.60"/><circle cx="149.10" cy="368.70" r="1.60"/><circle cx="150.75" cy="366.20" r="1.60"/><circle cx="152.40" cy="363.70" r="1.60"/><circle cx="154.10" cy="367.00" r="1.60"/><circle cx="155.75" cy="368.25" r="1.60"/><circle cx="157.40" cy="373.25" r="1.60"/><circle cx="159.10" cy="374.90" r="1.60"/><circle cx="160.75" cy="376.20" r="1.60"/><circle cx="162.40" cy="374.10" r="1.60"/><circle cx="164.10" cy="373.25" r="1.60"/><circle cx="165.75" cy="374.90" r="1.60"/><circle cx="167.40" cy="375.30" r="1.60"/><circle cx="169.10" cy="370.75" r="1.60"/><circle cx="171.20" cy="368.70" r="1.60"/><circle cx="172.80" cy="369.30" r="1.60"/><circle cx="174.50" cy="362.50" r="1.60"/><circle cx="176.20" cy="359.90" r="1.60"/><circle cx="177.80" cy="359.90" r="1.60"/><circle cx="179.50" cy="342.00" r="1.60"/><circle cx="181.20" cy="348.25" r="1.60"/><circle cx="182.40" cy="334.80" r="1.60"/><circle cx="184.10" cy="316.50" r="1.60"/><circle cx="186.20" cy="313.60" r="1.60"/><circle cx="188.25" cy="315.25" r="1.60"/><circle cx="189.50" cy="318.20" r="1.60"/><circle cx="191.60" cy="318.30" r="1.60"/><circle cx="192.80" cy="322.30" r="1.60"/><circle cx="194.50" cy="323.60" r="1.60"/><circle cx="196.20" cy="324.80" r="1.60"/><circle cx="198.25" cy="323.60" r="1.60"/><circle cx="199.90" cy="321.50" r="1.60"/><circle cx="201.60" cy="321.50" r="1.60"/><circle cx="203.25" cy="319.00" r="1.60"/><circle cx="204.90" cy="317.20" r="1.60"/><circle cx="206.60" cy="317.75" r="1.60"/><circle cx="208.25" cy="320.25" r="1.60"/><circle cx="209.50" cy="324.00" r="1.60"/><circle cx="211.20" cy="330.70" r="1.60"/><circle cx="212.80" cy="330.70" r="1.60"/><circle cx="214.50" cy="332.30" r="1.60"/><circle cx="216.20" cy="326.50" r="1.60"/><circle cx="218.25" cy="328.20" r="1.60"/><circle cx="219.90" cy="327.30" r="1.60"/><circle cx="221.60" cy="330.70" r="1.60"/><circle cx="223.25" cy="331.10" r="1.60"/><circle cx="225.30" cy="330.25" r="1.60"/><circle cx="227.00" cy="335.00" r="1.60"/><circle cx="229.90" cy="338.20" r="1.60"/><circle cx="232.40" cy="339.80" r="1.60"/><circle cx="233.70" cy="351.00" r="1.60"/><circle cx="234.50" cy="343.00" r="1.60"/><circle cx="236.60" cy="336.90" r="1.60"/><circle cx="238.70" cy="361.20" r="1.60"/><circle cx="239.90" cy="366.20" r="1.60"/><circle cx="242.00" cy="365.75" r="1.60"/><circle cx="244.10" cy="366.20" r="1.60"/><circle cx="245.75" cy="361.60" r="1.60"/><circle cx="247.00" cy="357.00" r="1.60"/><circle cx="249.10" cy="359.10" r="1.60"/><circle cx="250.75" cy="360.30" r="1.60"/><circle cx="252.80" cy="362.00" r="1.60"/><circle cx="254.10" cy="362.80" r="1.60"/><circle cx="255.75" cy="361.20" r="1.60"/><circle cx="257.80" cy="364.50" r="1.60"/><circle cx="259.10" cy="370.30" r="1.60"/><circle cx="260.75" cy="374.50" r="1.60"/><circle cx="262.40" cy="376.20" r="1.60"/><circle cx="264.10" cy="375.30" r="1.60"/><circle cx="265.75" cy="373.70" r="1.60"/><circle cx="267.40" cy="372.00" r="1.60"/><circle cx="269.50" cy="369.90" r="1.60"/><circle cx="271.20" cy="365.30" r="1.60"/><circle cx="272.80" cy="367.00" r="1.60"/><circle cx="274.10" cy="368.70" r="1.60"/><circle cx="276.20" cy="362.80" r="1.60"/><circle cx="277.00" cy="335.70" r="1.60"/><circle cx="279.10" cy="334.40" r="1.60"/><circle cx="280.75" cy="334.80" r="1.60"/><circle cx="282.40" cy="331.90" r="1.60"/><circle cx="284.00" cy="338.00" r="1.60"/><circle cx="285.75" cy="341.50" r="1.60"/><circle cx="287.80" cy="347.40" r="1.60"/><circle cx="289.50" cy="348.70" r="1.60"/><circle cx="291.20" cy="350.30" r="1.60"/><circle cx="292.40" cy="337.30" r="1.60"/><circle cx="294.50" cy="354.90" r="1.60"/><circle cx="295.75" cy="342.80" r="1.60"/><circle cx="297.40" cy="324.00" r="1.60"/><circle cx="299.10" cy="346.60" r="1.60"/><circle cx="300.75" cy="347.80" r="1.60"/><circle cx="302.80" cy="365.30" r="1.60"/><circle cx="304.90" cy="362.80" r="1.60"/><circle cx="306.60" cy="354.90" r="1.60"/><circle cx="308.25" cy="348.70" r="1.60"/><circle cx="309.90" cy="342.80" r="1.60"/><circle cx="311.60" cy="343.70" r="1.60"/><circle cx="313.70" cy="346.60" r="1.60"/><circle cx="314.90" cy="350.30" r="1.60"/><circle cx="316.60" cy="352.80" r="1.60"/><circle cx="318.25" cy="355.75" r="1.60"/><circle cx="319.90" cy="359.10" r="1.60"/><circle cx="321.60" cy="370.30" r="1.60"/><circle cx="322.40" cy="370.75" r="1.60"/><circle cx="324.50" cy="372.40" r="1.60"/><circle cx="326.60" cy="370.75" r="1.60"/><circle cx="328.25" cy="367.00" r="1.60"/><circle cx="330.30" cy="365.30" r="1.60"/><circle cx="331.80" cy="357.80" r="1.60"/><circle cx="333.70" cy="360.75" r="1.60"/><circle cx="335.20" cy="363.25" r="1.60"/><circle cx="336.80" cy="359.90" r="1.60"/><circle cx="338.70" cy="363.70" r="1.60"/><circle cx="340.30" cy="369.10" r="1.60"/><circle cx="341.80" cy="375.30" r="1.60"/><circle cx="343.70" cy="377.00" r="1.60"/><circle cx="345.30" cy="376.60" r="1.60"/><circle cx="347.00" cy="377.40" r="1.60"/><circle cx="349.10" cy="374.50" r="1.60"/><circle cx="351.20" cy="374.90" r="1.60"/><circle cx="353.70" cy="374.10" r="1.60"/><circle cx="354.90" cy="361.60" r="1.60"/><circle cx="357.40" cy="366.20" r="1.60"/><circle cx="359.10" cy="369.50" r="1.60"/><circle cx="360.75" cy="372.00" r="1.60"/><circle cx="362.00" cy="374.90" r="1.60"/><circle cx="363.70" cy="379.50" r="1.60"/><circle cx="364.90" cy="375.30" r="1.60"/><circle cx="366.60" cy="377.80" r="1.60"/><circle cx="369.50" cy="374.50" r="1.60"/><circle cx="371.20" cy="372.00" r="1.60"/><circle cx="372.40" cy="372.00" r="1.60"/><circle cx="374.10" cy="374.10" r="1.60"/><circle cx="375.75" cy="370.30" r="1.60"/><circle cx="377.40" cy="368.25" r="1.60"/><circle cx="379.50" cy="365.75" r="1.60"/><circle cx="382.40" cy="329.00" r="1.60"/><circle cx="384.50" cy="333.60" r="1.60"/><circle cx="387.40" cy="328.20" r="1.60"/><circle cx="389.50" cy="326.50" r="1.60"/><circle cx="391.60" cy="326.10" r="1.60"/><circle cx="393.70" cy="340.70" r="1.60"/><circle cx="395.30" cy="342.30" r="1.60"/><circle cx="397.00" cy="338.20" r="1.60"/><circle cx="398.70" cy="332.30" r="1.60"/><circle cx="399.90" cy="331.50" r="1.60"/><circle cx="401.20" cy="346.60" r="1.60"/><circle cx="402.80" cy="354.50" r="1.60"/><circle cx="404.50" cy="361.60" r="1.60"/><circle cx="406.20" cy="352.80" r="1.60"/><circle cx="407.80" cy="349.10" r="1.60"/><circle cx="409.50" cy="354.50" r="1.60"/><circle cx="411.20" cy="355.30" r="1.60"/><circle cx="412.80" cy="353.25" r="1.60"/><circle cx="414.50" cy="355.75" r="1.60"/><circle cx="416.20" cy="355.30" r="1.60"/><circle cx="417.80" cy="354.90" r="1.60"/><circle cx="419.50" cy="348.25" r="1.60"/><circle cx="421.60" cy="350.30" r="1.60"/><circle cx="423.50" cy="353.00" r="1.60"/><circle cx="424.50" cy="361.40" r="1.60"/><circle cx="426.60" cy="367.80" r="1.60"/><circle cx="427.80" cy="361.20" r="1.60"/><circle cx="429.90" cy="362.40" r="1.60"/><circle cx="432.00" cy="363.70" r="1.60"/><circle cx="433.70" cy="364.50" r="1.60"/><circle cx="434.90" cy="359.50" r="1.60"/><circle cx="436.60" cy="354.10" r="1.60"/><circle cx="438.25" cy="356.60" r="1.60"/><circle cx="439.90" cy="348.25" r="1.60"/><circle cx="441.60" cy="343.25" r="1.60"/><circle cx="443.70" cy="346.60" r="1.60"/><circle cx="445.30" cy="352.00" r="1.60"/><circle cx="447.00" cy="354.00" r="1.60"/><circle cx="448.70" cy="353.70" r="1.60"/><circle cx="450.30" cy="346.20" r="1.60"/><circle cx="452.00" cy="342.50" r="1.60"/><circle cx="454.10" cy="367.00" r="1.60"/><circle cx="455.30" cy="371.60" r="1.60"/><circle cx="457.80" cy="371.60" r="1.60"/><circle cx="460.30" cy="371.20" r="1.60"/><circle cx="462.00" cy="369.50" r="1.60"/><circle cx="463.70" cy="374.50" r="1.60"/><circle cx="465.30" cy="373.25" r="1.60"/><circle cx="467.00" cy="375.30" r="1.60"/><circle cx="468.70" cy="371.20" r="1.60"/><circle cx="470.30" cy="369.10" r="1.60"/><circle cx="472.00" cy="369.30" r="1.60"/><circle cx="473.70" cy="373.70" r="1.60"/><circle cx="475.75" cy="375.75" r="1.60"/><circle cx="477.40" cy="374.50" r="1.60"/><circle cx="479.10" cy="370.75" r="1.60"/><circle cx="481.20" cy="371.20" r="1.60"/><circle cx="483.25" cy="372.00" r="1.60"/><circle cx="485.30" cy="373.25" r="1.60"/><circle cx="487.40" cy="374.50" r="1.60"/><circle cx="489.10" cy="375.30" r="1.60"/><circle cx="490.75" cy="374.10" r="1.60"/><circle cx="492.40" cy="374.10" r="1.60"/><circle cx="494.10" cy="372.80" r="1.60"/><circle cx="495.75" cy="374.10" r="1.60"/><circle cx="497.80" cy="374.50" r="1.60"/><circle cx="499.50" cy="371.20" r="1.60"/><circle cx="501.20" cy="373.25" r="1.60"/><circle cx="502.80" cy="374.90" r="1.60"/><circle cx="504.50" cy="374.90" r="1.60"/><circle cx="506.20" cy="375.75" r="1.60"/><circle cx="507.80" cy="374.10" r="1.60"/><circle cx="509.50" cy="376.20" r="1.60"/><circle cx="511.20" cy="375.75" r="1.60"/><circle cx="512.80" cy="374.50" r="1.60"/><circle cx="514.50" cy="372.80" r="1.60"/><circle cx="516.20" cy="369.90" r="1.60"/><circle cx="517.80" cy="367.80" r="1.60"/><circle cx="519.50" cy="368.70" r="1.60"/><circle cx="521.20" cy="364.10" r="1.60"/><circle cx="522.80" cy="363.50" r="1.60"/><circle cx="524.50" cy="362.50" r="1.60"/><circle cx="526.60" cy="362.40" r="1.60"/><circle cx="527.80" cy="359.10" r="1.60"/><circle cx="529.50" cy="358.00" r="1.60"/><circle cx="531.60" cy="356.60" r="1.60"/><circle cx="533.25" cy="354.10" r="1.60"/><circle cx="534.50" cy="349.90" r="1.60"/><circle cx="535.30" cy="342.40" r="1.60"/><circle cx="536.40" cy="332.00" r="1.60"/><circle cx="538.75" cy="338.10" r="1.60"/><circle cx="541.00" cy="341.00" r="1.60"/><circle cx="543.00" cy="342.00" r="1.60"/><circle cx="545.00" cy="341.90" r="1.60"/><circle cx="547.00" cy="339.40" r="1.60"/><circle cx="548.70" cy="338.20" r="1.60"/><circle cx="550.00" cy="337.20" r="1.60"/><circle cx="551.90" cy="327.80" r="1.60"/><circle cx="553.25" cy="328.20" r="1.60"/><circle cx="555.00" cy="330.00" r="1.60"/><circle cx="556.60" cy="329.00" r="1.60"/><circle cx="558.40" cy="332.20" r="1.60"/><circle cx="560.00" cy="331.00" r="1.60"/><circle cx="562.50" cy="328.10" r="1.60"/></g>
<path d="M75.75 319.40 L77.80 316.70 L79.90 317.75 L81.80 318.30 L84.50 327.30 L86.60 335.70 L88.70 336.00 L90.20 336.70 L91.30 328.60 L92.80 322.30 L94.70 319.00 L96.30 326.00 L97.20 329.00 L98.25 340.70 L100.50 345.00 L103.25 348.25 L105.30 349.00 L108.25 349.00 L110.30 346.60 L111.80 352.40 L112.80 342.80 L113.25 336.90 L115.30 334.00 L117.00 336.50 L119.90 333.20 L122.00 333.20 L123.25 336.50 L125.50 340.00 L127.00 331.50 L128.70 326.30 L130.30 320.25 L132.00 324.40 L134.10 324.00 L135.75 326.10 L137.40 329.40 L139.10 331.10 L140.30 335.70 L142.00 334.00 L143.80 329.00 L146.20 343.20 L147.00 343.70 L149.10 346.20 L150.75 343.70 L152.40 340.25 L153.70 346.20 L154.50 342.00 L157.00 335.25 L159.10 335.70 L160.75 340.70 L162.00 342.80 L163.25 341.50 L165.75 338.20 L167.80 336.10 L169.90 340.70 L172.00 339.00 L174.10 321.90 L176.20 319.70 L177.80 321.50 L179.00 324.00 L180.75 319.80 L181.80 320.70 L182.80 331.50 L184.50 340.70 L185.75 340.30 L187.40 337.30 L189.10 331.10 L191.20 330.70 L192.80 326.10 L194.90 324.40 L197.00 325.25 L198.70 326.50 L200.75 326.50 L203.25 329.00 L204.90 331.50 L206.60 332.30 L208.25 330.25 L209.90 326.10 L211.20 319.80 L212.80 319.40 L214.90 320.25 L217.00 321.50 L218.70 322.30 L220.75 321.90 L222.40 323.20 L223.25 324.00 L225.30 324.40 L226.60 320.25 L228.25 317.75 L230.30 317.30 L232.00 316.90 L234.10 316.50 L235.30 324.00 L237.00 331.10 L238.70 334.80 L240.30 328.60 L242.40 330.70 L244.10 331.50 L245.60 326.50 L247.80 329.40 L248.70 342.30 L250.30 354.50 L252.40 354.50 L254.10 349.90 L255.75 351.20 L257.40 345.30 L259.10 347.80 L260.75 350.30 L262.80 349.90 L264.90 351.20 L267.00 352.80 L269.10 355.75 L270.75 334.80 L272.40 332.75 L274.10 333.60 L275.75 332.50 L277.00 321.50 L278.70 321.10 L280.75 323.60 L282.80 321.10 L284.50 320.70 L286.20 321.90 L287.80 317.75 L289.50 316.90 L291.20 320.25 L292.80 320.25 L294.50 319.80 L295.75 326.50 L297.00 328.20 L298.70 329.00 L299.90 326.10 L301.20 317.30 L302.30 320.50 L303.25 326.50 L304.90 320.70 L306.20 316.90 L307.80 317.30 L309.10 324.00 L311.20 330.25 L312.80 323.20 L314.50 318.20 L316.60 318.20 L317.80 321.50 L319.90 319.80 L321.20 324.80 L322.80 323.80 L324.90 324.00 L327.00 323.20 L328.70 324.40 L330.30 322.30 L331.60 319.40 L333.50 317.30 L335.20 320.70 L337.00 318.60 L338.70 322.30 L340.30 327.30 L342.00 336.50 L343.50 347.50 L345.20 347.00 L347.00 342.80 L348.80 346.30 L350.40 342.50 L352.60 346.60 L353.80 334.00 L355.30 318.80 L357.40 322.75 L358.70 328.20 L360.75 328.60 L362.40 336.50 L364.10 343.50 L365.30 328.60 L367.40 331.50 L369.10 328.20 L370.75 321.10 L372.40 324.40 L373.70 329.00 L375.30 324.40 L377.00 328.20 L378.70 324.00 L379.90 336.50 L382.00 336.90 L384.50 332.75 L386.60 329.40 L388.70 331.10 L390.30 331.50 L392.40 329.80 L394.10 326.90 L396.20 325.70 L397.80 324.80 L399.50 324.00 L401.20 320.25 L402.80 321.50 L404.10 330.70 L405.75 324.80 L407.80 320.25 L409.10 323.60 L410.75 324.00 L412.80 320.70 L414.90 319.40 L416.60 322.75 L418.25 319.00 L419.90 321.10 L422.00 320.80 L422.80 324.00 L424.90 321.90 L426.60 325.25 L427.80 328.60 L429.10 321.10 L431.20 319.00 L433.25 321.10 L435.30 318.60 L437.00 318.20 L438.70 321.90 L440.30 324.00 L442.00 325.25 L443.25 329.80 L444.90 325.25 L446.80 321.90 L448.25 326.50 L450.30 324.80 L451.60 339.00 L453.25 331.10 L454.90 332.30 L457.00 328.20 L458.70 326.10 L460.30 327.30 L462.00 326.10 L463.70 330.70 L465.30 328.60 L467.00 331.50 L468.70 326.10 L470.30 327.30 L472.00 331.10 L474.10 329.00 L475.75 330.25 L477.40 331.10 L479.10 333.60 L480.30 328.60 L482.00 326.50 L484.10 324.40 L486.20 326.50 L487.80 326.50 L489.10 328.20 L490.30 324.80 L492.40 324.00 L494.10 321.10 L495.75 322.30 L497.40 325.70 L499.10 321.50 L500.75 326.90 L502.40 334.00 L504.10 328.60 L505.75 324.80 L507.80 321.50 L509.50 326.50 L511.20 333.20 L512.80 329.80 L514.50 324.40 L516.20 319.00 L517.80 316.90 L519.90 317.30 L521.60 317.30 L523.25 314.80 L524.10 315.70 L526.20 316.50 L527.80 316.50 L529.50 317.75 L531.20 314.80 L532.80 312.75 L534.50 310.25 L536.20 315.70 L537.80 310.70 L539.50 310.25 L541.60 312.30 L543.25 311.50 L544.90 312.30 L547.00 313.60 L548.70 314.80 L550.30 319.40 L551.60 324.40 L552.80 324.40 L555.00 333.75 L556.50 325.00 L558.40 319.70 L559.90 325.00 L560.90 331.90 L562.30 346.00" fill="none" stroke="#a8a81c" stroke-width="1" stroke-linejoin="round"/>
<g fill="#a8a81c"><circle cx="75.75" cy="319.40" r="1.60"/><circle cx="77.80" cy="316.70" r="1.60"/><circle cx="79.90" cy="317.75" r="1.60"/><circle cx="81.80" cy="318.30" r="1.60"/><circle cx="84.50" cy="327.30" r="1.60"/><circle cx="86.60" cy="335.70" r="1.60"/><circle cx="88.70" cy="336.00" r="1.60"/><circle cx="90.20" cy="336.70" r="1.60"/><circle cx="91.30" cy="328.60" r="1.60"/><circle cx="92.80" cy="322.30" r="1.60"/><circle cx="94.70" cy="319.00" r="1.60"/><circle cx="96.30" cy="326.00" r="1.60"/><circle cx="97.20" cy="329.00" r="1.60"/><circle cx="98.25" cy="340.70" r="1.60"/><circle cx="100.50" cy="345.00" r="1.60"/><circle cx="103.25" cy="348.25" r="1.60"/><circle cx="105.30" cy="349.00" r="1.60"/><circle cx="108.25" cy="349.00" r="1.60"/><circle cx="110.30" cy="346.60" r="1.60"/><circle cx="111.80" cy="352.40" r="1.60"/><circle cx="112.80" cy="342.80" r="1.60"/><circle cx="113.25" cy="336.90" r="1.60"/><circle cx="115.30" cy="334.00" r="1.60"/><circle cx="117.00" cy="336.50" r="1.60"/><circle cx="119.90" cy="333.20" r="1.60"/><circle cx="122.00" cy="333.20" r="1.60"/><circle cx="123.25" cy="336.50" r="1.60"/><circle cx="125.50" cy="340.00" r="1.60"/><circle cx="127.00" cy="331.50" r="1.60"/><circle cx="128.70" cy="326.30" r="1.60"/><circle cx="130.30" cy="320.25" r="1.60"/><circle cx="132.00" cy="324.40" r="1.60"/><circle cx="134.10" cy="324.00" r="1.60"/><circle cx="135.75" cy="326.10" r="1.60"/><circle cx="137.40" cy="329.40" r="1.60"/><circle cx="139.10" cy="331.10" r="1.60"/><circle cx="140.30" cy="335.70" r="1.60"/><circle cx="142.00" cy="334.00" r="1.60"/><circle cx="143.80" cy="329.00" r="1.60"/><circle cx="146.20" cy="343.20" r="1.60"/><circle cx="147.00" cy="343.70" r="1.60"/><circle cx="149.10" cy="346.20" r="1.60"/><circle cx="150.75" cy="343.70" r="1.60"/><circle cx="152.40" cy="340.25" r="1.60"/><circle cx="153.70" cy="346.20" r="1.60"/><circle cx="154.50" cy="342.00" r="1.60"/><circle cx="157.00" cy="335.25" r="1.60"/><circle cx="159.10" cy="335.70" r="1.60"/><circle cx="160.75" cy="340.70" r="1.60"/><circle cx="162.00" cy="342.80" r="1.60"/><circle cx="163.25" cy="341.50" r="1.60"/><circle cx="165.75" cy="338.20" r="1.60"/><circle cx="167.80" cy="336.10" r="1.60"/><circle cx="169.90" cy="340.70" r="1.60"/><circle cx="172.00" cy="339.00" r="1.60"/><circle cx="174.10" cy="321.90" r="1.60"/><circle cx="176.20" cy="319.70" r="1.60"/><circle cx="177.80" cy="321.50" r="1.60"/><circle cx="179.00" cy="324.00" r="1.60"/><circle cx="180.75" cy="319.80" r="1.60"/><circle cx="181.80" cy="320.70" r="1.60"/><circle cx="182.80" cy="331.50" r="1.60"/><circle cx="184.50" cy="340.70" r="1.60"/><circle cx="185.75" cy="340.30" r="1.60"/><circle cx="187.40" cy="337.30" r="1.60"/><circle cx="189.10" cy="331.10" r="1.60"/><circle cx="191.20" cy="330.70" r="1.60"/><circle cx="192.80" cy="326.10" r="1.60"/><circle cx="194.90" cy="324.40" r="1.60"/><circle cx="197.00" cy="325.25" r="1.60"/><circle cx="198.70" cy="326.50" r="1.60"/><circle cx="200.75" cy="326.50" r="1.60"/><circle cx="203.25" cy="329.00" r="1.60"/><circle cx="204.90" cy="331.50" r="1.60"/><circle cx="206.60" cy="332.30" r="1.60"/><circle cx="208.25" cy="330.25" r="1.60"/><circle cx="209.90" cy="326.10" r="1.60"/><circle cx="211.20" cy="319.80" r="1.60"/><circle cx="212.80" cy="319.40" r="1.60"/><circle cx="214.90" cy="320.25" r="1.60"/><circle cx="217.00" cy="321.50" r="1.60"/><circle cx="218.70" cy="322.30" r="1.60"/><circle cx="220.75" cy="321.90" r="1.60"/><circle cx="222.40" cy="323.20" r="1.60"/><circle cx="223.25" cy="324.00" r="1.60"/><circle cx="225.30" cy="324.40" r="1.60"/><circle cx="226.60" cy="320.25" r="1.60"/><circle cx="228.25" cy="317.75" r="1.60"/><circle cx="230.30" cy="317.30" r="1.60"/><circle cx="232.00" cy="316.90" r="1.60"/><circle cx="234.10" cy="316.50" r="1.60"/><circle cx="235.30" cy="324.00" r="1.60"/><circle cx="237.00" cy="331.10" r="1.60"/><circle cx="238.70" cy="334.80" r="1.60"/><circle cx="240.30" cy="328.60" r="1.60"/><circle cx="242.40" cy="330.70" r="1.60"/><circle cx="244.10" cy="331.50" r="1.60"/><circle cx="245.60" cy="326.50" r="1.60"/><circle cx="247.80" cy="329.40" r="1.60"/><circle cx="248.70" cy="342.30" r="1.60"/><circle cx="250.30" cy="354.50" r="1.60"/><circle cx="252.40" cy="354.50" r="1.60"/><circle cx="254.10" cy="349.90" r="1.60"/><circle cx="255.75" cy="351.20" r="1.60"/><circle cx="257.40" cy="345.30" r="1.60"/><circle cx="259.10" cy="347.80" r="1.60"/><circle cx="260.75" cy="350.30" r="1.60"/><circle cx="262.80" cy="349.90" r="1.60"/><circle cx="264.90" cy="351.20" r="1.60"/><circle cx="267.00" cy="352.80" r="1.60"/><circle cx="269.10" cy="355.75" r="1.60"/><circle cx="270.75" cy="334.80" r="1.60"/><circle cx="272.40" cy="332.75" r="1.60"/><circle cx="274.10" cy="333.60" r="1.60"/><circle cx="275.75" cy="332.50" r="1.60"/><circle cx="277.00" cy="321.50" r="1.60"/><circle cx="278.70" cy="321.10" r="1.60"/><circle cx="280.75" cy="323.60" r="1.60"/><circle cx="282.80" cy="321.10" r="1.60"/><circle cx="284.50" cy="320.70" r="1.60"/><circle cx="286.20" cy="321.90" r="1.60"/><circle cx="287.80" cy="317.75" r="1.60"/><circle cx="289.50" cy="316.90" r="1.60"/><circle cx="291.20" cy="320.25" r="1.60"/><circle cx="292.80" cy="320.25" r="1.60"/><circle cx="294.50" cy="319.80" r="1.60"/><circle cx="295.75" cy="326.50" r="1.60"/><circle cx="297.00" cy="328.20" r="1.60"/><circle cx="298.70" cy="329.00" r="1.60"/><circle cx="299.90" cy="326.10" r="1.60"/><circle cx="301.20" cy="317.30" r="1.60"/><circle cx="302.30" cy="320.50" r="1.60"/><circle cx="303.25" cy="326.50" r="1.60"/><circle cx="304.90" cy="320.70" r="1.60"/><circle cx="306.20" cy="316.90" r="1.60"/><circle cx="307.80" cy="317.30" r="1.60"/><circle cx="309.10" cy="324.00" r="1.60"/><circle cx="311.20" cy="330.25" r="1.60"/><circle cx="312.80" cy="323.20" r="1.60"/><circle cx="314.50" cy="318.20" r="1.60"/><circle cx="316.60" cy="318.20" r="1.60"/><circle cx="317.80" cy="321.50" r="1.60"/><circle cx="319.90" cy="319.80" r="1.60"/><circle cx="321.20" cy="324.80" r="1.60"/><circle cx="322.80" cy="323.80" r="1.60"/><circle cx="324.90" cy="324.00" r="1.60"/><circle cx="327.00" cy="323.20" r="1.60"/><circle cx="328.70" cy="324.40" r="1.60"/><circle cx="330.30" cy="322.30" r="1.60"/><circle cx="331.60" cy="319.40" r="1.60"/><circle cx="333.50" cy="317.30" r="1.60"/><circle cx="335.20" cy="320.70" r="1.60"/><circle cx="337.00" cy="318.60" r="1.60"/><circle cx="338.70" cy="322.30" r="1.60"/><circle cx="340.30" cy="327.30" r="1.60"/><circle cx="342.00" cy="336.50" r="1.60"/><circle cx="343.50" cy="347.50" r="1.60"/><circle cx="345.20" cy="347.00" r="1.60"/><circle cx="347.00" cy="342.80" r="1.60"/><circle cx="348.80" cy="346.30" r="1.60"/><circle cx="350.40" cy="342.50" r="1.60"/><circle cx="352.60" cy="346.60" r="1.60"/><circle cx="353.80" cy="334.00" r="1.60"/><circle cx="355.30" cy="318.80" r="1.60"/><circle cx="357.40" cy="322.75" r="1.60"/><circle cx="358.70" cy="328.20" r="1.60"/><circle cx="360.75" cy="328.60" r="1.60"/><circle cx="362.40" cy="336.50" r="1.60"/><circle cx="364.10" cy="343.50" r="1.60"/><circle cx="365.30" cy="328.60" r="1.60"/><circle cx="367.40" cy="331.50" r="1.60"/><circle cx="369.10" cy="328.20" r="1.60"/><circle cx="370.75" cy="321.10" r="1.60"/><circle cx="372.40" cy="324.40" r="1.60"/><circle cx="373.70" cy="329.00" r="1.60"/><circle cx="375.30" cy="324.40" r="1.60"/><circle cx="377.00" cy="328.20" r="1.60"/><circle cx="378.70" cy="324.00" r="1.60"/><circle cx="379.90" cy="336.50" r="1.60"/><circle cx="382.00" cy="336.90" r="1.60"/><circle cx="384.50" cy="332.75" r="1.60"/><circle cx="386.60" cy="329.40" r="1.60"/><circle cx="388.70" cy="331.10" r="1.60"/><circle cx="390.30" cy="331.50" r="1.60"/><circle cx="392.40" cy="329.80" r="1.60"/><circle cx="394.10" cy="326.90" r="1.60"/><circle cx="396.20" cy="325.70" r="1.60"/><circle cx="397.80" cy="324.80" r="1.60"/><circle cx="399.50" cy="324.00" r="1.60"/><circle cx="401.20" cy="320.25" r="1.60"/><circle cx="402.80" cy="321.50" r="1.60"/><circle cx="404.10" cy="330.70" r="1.60"/><circle cx="405.75" cy="324.80" r="1.60"/><circle cx="407.80" cy="320.25" r="1.60"/><circle cx="409.10" cy="323.60" r="1.60"/><circle cx="410.75" cy="324.00" r="1.60"/><circle cx="412.80" cy="320.70" r="1.60"/><circle cx="414.90" cy="319.40" r="1.60"/><circle cx="416.60" cy="322.75" r="1.60"/><circle cx="418.25" cy="319.00" r="1.60"/><circle cx="419.90" cy="321.10" r="1.60"/><circle cx="422.00" cy="320.80" r="1.60"/><circle cx="422.80" cy="324.00" r="1.60"/><circle cx="424.90" cy="321.90" r="1.60"/><circle cx="426.60" cy="325.25" r="1.60"/><circle cx="427.80" cy="328.60" r="1.60"/><circle cx="429.10" cy="321.10" r="1.60"/><circle cx="431.20" cy="319.00" r="1.60"/><circle cx="433.25" cy="321.10" r="1.60"/><circle cx="435.30" cy="318.60" r="1.60"/><circle cx="437.00" cy="318.20" r="1.60"/><circle cx="438.70" cy="321.90" r="1.60"/><circle cx="440.30" cy="324.00" r="1.60"/><circle cx="442.00" cy="325.25" r="1.60"/><circle cx="443.25" cy="329.80" r="1.60"/><circle cx="444.90" cy="325.25" r="1.60"/><circle cx="446.80" cy="321.90" r="1.60"/><circle cx="448.25" cy="326.50" r="1.60"/><circle cx="450.30" cy="324.80" r="1.60"/><circle cx="451.60" cy="339.00" r="1.60"/><circle cx="453.25" cy="331.10" r="1.60"/><circle cx="454.90" cy="332.30" r="1.60"/><circle cx="457.00" cy="328.20" r="1.60"/><circle cx="458.70" cy="326.10" r="1.60"/><circle cx="460.30" cy="327.30" r="1.60"/><circle cx="462.00" cy="326.10" r="1.60"/><circle cx="463.70" cy="330.70" r="1.60"/><circle cx="465.30" cy="328.60" r="1.60"/><circle cx="467.00" cy="331.50" r="1.60"/><circle cx="468.70" cy="326.10" r="1.60"/><circle cx="470.30" cy="327.30" r="1.60"/><circle cx="472.00" cy="331.10" r="1.60"/><circle cx="474.10" cy="329.00" r="1.60"/><circle cx="475.75" cy="330.25" r="1.60"/><circle cx="477.40" cy="331.10" r="1.60"/><circle cx="479.10" cy="333.60" r="1.60"/><circle cx="480.30" cy="328.60" r="1.60"/><circle cx="482.00" cy="326.50" r="1.60"/><circle cx="484.10" cy="324.40" r="1.60"/><circle cx="486.20" cy="326.50" r="1.60"/><circle cx="487.80" cy="326.50" r="1.60"/><circle cx="489.10" cy="328.20" r="1.60"/><circle cx="490.30" cy="324.80" r="1.60"/><circle cx="492.40" cy="324.00" r="1.60"/><circle cx="494.10" cy="321.10" r="1.60"/><circle cx="495.75" cy="322.30" r="1.60"/><circle cx="497.40" cy="325.70" r="1.60"/><circle cx="499.10" cy="321.50" r="1.60"/><circle cx="500.75" cy="326.90" r="1.60"/><circle cx="502.40" cy="334.00" r="1.60"/><circle cx="504.10" cy="328.60" r="1.60"/><circle cx="505.75" cy="324.80" r="1.60"/><circle cx="507.80" cy="321.50" r="1.60"/><circle cx="509.50" cy="326.50" r="1.60"/><circle cx="511.20" cy="333.20" r="1.60"/><circle cx="512.80" cy="329.80" r="1.60"/><circle cx="514.50" cy="324.40" r="1.60"/><circle cx="516.20" cy="319.00" r="1.60"/><circle cx="517.80" cy="316.90" r="1.60"/><circle cx="519.90" cy="317.30" r="1.60"/><circle cx="521.60" cy="317.30" r="1.60"/><circle cx="523.25" cy="314.80" r="1.60"/><circle cx="524.10" cy="315.70" r="1.60"/><circle cx="526.20" cy="316.50" r="1.60"/><circle cx="527.80" cy="316.50" r="1.60"/><circle cx="529.50" cy="317.75" r="1.60"/><circle cx="531.20" cy="314.80" r="1.60"/><circle cx="532.80" cy="312.75" r="1.60"/><circle cx="534.50" cy="310.25" r="1.60"/><circle cx="536.20" cy="315.70" r="1.60"/><circle cx="537.80" cy="310.70" r="1.60"/><circle cx="539.50" cy="310.25" r="1.60"/><circle cx="541.60" cy="312.30" r="1.60"/><circle cx="543.25" cy="311.50" r="1.60"/><circle cx="544.90" cy="312.30" r="1.60"/><circle cx="547.00" cy="313.60" r="1.60"/><circle cx="548.70" cy="314.80" r="1.60"/><circle cx="550.30" cy="319.40" r="1.60"/><circle cx="551.60" cy="324.40" r="1.60"/><circle cx="552.80" cy="324.40" r="1.60"/><circle cx="555.00" cy="333.75" r="1.60"/><circle cx="556.50" cy="325.00" r="1.60"/><circle cx="558.40" cy="319.70" r="1.60"/><circle cx="559.90" cy="325.00" r="1.60"/><circle cx="560.90" cy="331.90" r="1.60"/><circle cx="562.30" cy="346.00" r="1.60"/></g>
<path d="M75.75 337.75 L77.40 338.20 L79.50 337.30 L81.20 340.25 L82.80 329.40 L84.50 329.80 L86.20 330.25 L88.25 331.00 L89.50 360.00 L90.75 347.00 L92.00 345.30 L93.25 343.60 L94.90 341.00 L96.20 334.40 L98.00 330.25 L99.50 334.00 L100.30 337.30 L102.00 342.30 L104.90 341.00 L107.80 342.75 L110.30 341.90 L112.80 340.70 L115.30 339.80 L117.40 339.00 L119.50 342.30 L122.00 342.75 L123.25 344.50 L124.90 337.30 L127.40 338.20 L128.70 344.50 L130.30 349.90 L132.00 359.90 L133.70 359.90 L135.30 349.90 L137.00 347.40 L139.10 349.10 L141.60 348.25 L144.10 350.30 L145.30 329.80 L146.60 333.20 L148.70 334.40 L150.75 331.10 L152.40 328.60 L154.10 335.25 L155.75 338.20 L156.20 342.40 L157.40 350.30 L160.75 350.30 L162.40 359.10 L164.90 358.25 L167.40 359.10 L169.10 365.75 L171.20 368.70 L172.40 362.00 L173.50 341.00 L174.50 338.20 L176.20 337.30 L177.80 333.20 L179.50 325.25 L180.75 327.75 L182.40 328.20 L184.50 330.25 L185.75 334.40 L188.25 334.00 L189.90 334.80 L192.00 336.90 L194.10 336.10 L195.75 331.90 L197.40 331.10 L199.50 333.60 L201.20 329.40 L203.25 339.00 L204.90 334.00 L207.00 336.90 L209.10 337.30 L211.20 336.90 L212.80 344.00 L214.90 347.00 L217.00 343.70 L218.70 345.30 L220.30 341.50 L222.00 339.00 L224.10 337.30 L225.75 337.75 L228.70 341.50 L230.30 339.80 L232.00 341.50 L232.80 349.90 L234.50 349.90 L236.60 342.80 L238.25 349.10 L240.30 351.60 L242.40 349.10 L244.50 345.30 L247.00 344.90 L249.00 343.50 L250.75 342.00 L252.00 338.20 L254.10 334.80 L255.75 336.10 L257.80 338.20 L259.90 340.70 L262.40 339.80 L264.50 338.60 L266.60 337.75 L269.10 336.90 L270.75 339.40 L272.40 339.00 L273.25 343.25 L275.75 339.80 L278.00 341.00 L280.00 341.00 L281.60 339.00 L283.00 341.00 L284.50 332.75 L286.60 332.75 L287.80 340.70 L289.50 341.50 L291.20 348.25 L292.80 340.70 L294.50 337.30 L296.20 329.00 L297.80 333.60 L299.90 333.20 L301.60 339.00 L302.40 350.30 L304.10 349.10 L305.75 345.30 L307.80 345.30 L309.50 326.90 L311.20 321.90 L312.80 327.30 L314.90 329.80 L317.00 334.00 L318.25 338.20 L319.90 338.20 L321.60 327.75 L322.40 328.20 L323.70 339.80 L324.90 347.80 L326.60 349.50 L328.70 355.30 L329.90 344.10 L331.60 349.50 L333.70 349.50 L335.30 351.60 L337.00 350.75 L338.70 350.30 L340.30 355.30 L342.00 356.60 L343.70 358.25 L345.30 356.20 L347.00 353.70 L348.70 354.90 L350.75 354.10 L352.40 357.40 L354.10 358.25 L355.75 359.90 L357.00 364.10 L358.70 361.60 L360.30 357.40 L362.40 352.80 L364.10 355.30 L365.75 357.40 L367.40 358.25 L369.10 353.70 L370.75 351.20 L372.40 356.60 L374.10 354.30 L375.75 353.70 L377.40 362.00 L379.10 355.75 L380.30 319.80 L381.60 321.90 L383.70 323.20 L385.75 321.10 L387.80 321.50 L389.90 321.90 L392.00 322.30 L394.10 323.20 L395.75 328.20 L397.60 328.50 L399.50 328.20 L401.20 330.70 L402.40 335.25 L404.10 340.70 L405.75 335.70 L407.80 332.75 L409.90 334.00 L411.60 335.25 L413.25 335.25 L414.90 336.10 L416.60 329.00 L418.25 342.50 L419.90 338.20 L421.60 331.50 L423.25 329.80 L424.90 338.20 L426.20 347.80 L428.25 326.50 L429.90 335.70 L431.20 346.20 L433.25 352.00 L434.90 355.30 L436.60 359.90 L438.70 359.90 L439.90 364.10 L441.60 369.10 L443.25 374.10 L444.90 365.30 L446.60 356.20 L448.25 368.70 L450.30 369.10 L452.00 377.40 L453.25 356.60 L455.30 356.60 L457.00 351.60 L458.70 347.00 L460.30 347.00 L462.40 345.30 L463.70 349.50 L465.30 352.40 L467.40 355.75 L469.10 358.70 L470.75 363.70 L472.40 366.60 L473.70 356.60 L475.75 352.40 L477.40 358.25 L479.10 370.75 L480.75 369.50 L482.40 366.20 L484.10 362.80 L486.20 362.00 L488.25 362.40 L490.30 360.75 L492.40 359.50 L494.10 357.40 L495.75 354.50 L497.40 359.10 L499.10 357.00 L500.75 364.10 L502.80 367.00 L504.50 359.10 L506.00 345.30 L507.80 351.20 L509.50 354.10 L511.20 364.10 L512.80 364.50 L514.50 358.70 L516.20 357.00 L517.80 357.40 L519.50 351.20 L521.20 348.25 L522.80 347.50 L524.50 349.90 L526.20 352.40 L528.25 354.90 L529.90 359.10 L531.60 362.40 L533.25 361.20 L534.90 355.75 L535.75 345.30 L536.60 336.90 L537.80 345.30 L539.90 343.25 L541.60 349.90 L542.60 341.00 L544.50 337.75 L546.60 336.90 L548.40 330.90 L550.00 330.00 L552.00 331.10 L553.10 330.60 L555.00 322.50 L556.60 328.10 L558.40 337.80 L560.00 328.10 L561.90 324.40" fill="none" stroke="#28ae28" stroke-width="1" stroke-linejoin="round"/>
<g fill="#28ae28"><circle cx="75.75" cy="337.75" r="1.60"/><circle cx="77.40" cy="338.20" r="1.60"/><circle cx="79.50" cy="337.30" r="1.60"/><circle cx="81.20" cy="340.25" r="1.60"/><circle cx="82.80" cy="329.40" r="1.60"/><circle cx="84.50" cy="329.80" r="1.60"/><circle cx="86.20" cy="330.25" r="1.60"/><circle cx="88.25" cy="331.00" r="1.60"/><circle cx="89.50" cy="360.00" r="1.60"/><circle cx="90.75" cy="347.00" r="1.60"/><circle cx="92.00" cy="345.30" r="1.60"/><circle cx="93.25" cy="343.60" r="1.60"/><circle cx="94.90" cy="341.00" r="1.60"/><circle cx="96.20" cy="334.40" r="1.60"/><circle cx="98.00" cy="330.25" r="1.60"/><circle cx="99.50" cy="334.00" r="1.60"/><circle cx="100.30" cy="337.30" r="1.60"/><circle cx="102.00" cy="342.30" r="1.60"/><circle cx="104.90" cy="341.00" r="1.60"/><circle cx="107.80" cy="342.75" r="1.60"/><circle cx="110.30" cy="341.90" r="1.60"/><circle cx="112.80" cy="340.70" r="1.60"/><circle cx="115.30" cy="339.80" r="1.60"/><circle cx="117.40" cy="339.00" r="1.60"/><circle cx="119.50" cy="342.30" r="1.60"/><circle cx="122.00" cy="342.75" r="1.60"/><circle cx="123.25" cy="344.50" r="1.60"/><circle cx="124.90" cy="337.30" r="1.60"/><circle cx="127.40" cy="338.20" r="1.60"/><circle cx="128.70" cy="344.50" r="1.60"/><circle cx="130.30" cy="349.90" r="1.60"/><circle cx="132.00" cy="359.90" r="1.60"/><circle cx="133.70" cy="359.90" r="1.60"/><circle cx="135.30" cy="349.90" r="1.60"/><circle cx="137.00" cy="347.40" r="1.60"/><circle cx="139.10" cy="349.10" r="1.60"/><circle cx="141.60" cy="348.25" r="1.60"/><circle cx="144.10" cy="350.30" r="1.60"/><circle cx="145.30" cy="329.80" r="1.60"/><circle cx="146.60" cy="333.20" r="1.60"/><circle cx="148.70" cy="334.40" r="1.60"/><circle cx="150.75" cy="331.10" r="1.60"/><circle cx="152.40" cy="328.60" r="1.60"/><circle cx="154.10" cy="335.25" r="1.60"/><circle cx="155.75" cy="338.20" r="1.60"/><circle cx="156.20" cy="342.40" r="1.60"/><circle cx="157.40" cy="350.30" r="1.60"/><circle cx="160.75" cy="350.30" r="1.60"/><circle cx="162.40" cy="359.10" r="1.60"/><circle cx="164.90" cy="358.25" r="1.60"/><circle cx="167.40" cy="359.10" r="1.60"/><circle cx="169.10" cy="365.75" r="1.60"/><circle cx="171.20" cy="368.70" r="1.60"/><circle cx="172.40" cy="362.00" r="1.60"/><circle cx="173.50" cy="341.00" r="1.60"/><circle cx="174.50" cy="338.20" r="1.60"/><circle cx="176.20" cy="337.30" r="1.60"/><circle cx="177.80" cy="333.20" r="1.60"/><circle cx="179.50" cy="325.25" r="1.60"/><circle cx="180.75" cy="327.75" r="1.60"/><circle cx="182.40" cy="328.20" r="1.60"/><circle cx="184.50" cy="330.25" r="1.60"/><circle cx="185.75" cy="334.40" r="1.60"/><circle cx="188.25" cy="334.00" r="1.60"/><circle cx="189.90" cy="334.80" r="1.60"/><circle cx="192.00" cy="336.90" r="1.60"/><circle cx="194.10" cy="336.10" r="1.60"/><circle cx="195.75" cy="331.90" r="1.60"/><circle cx="197.40" cy="331.10" r="1.60"/><circle cx="199.50" cy="333.60" r="1.60"/><circle cx="201.20" cy="329.40" r="1.60"/><circle cx="203.25" cy="339.00" r="1.60"/><circle cx="204.90" cy="334.00" r="1.60"/><circle cx="207.00" cy="336.90" r="1.60"/><circle cx="209.10" cy="337.30" r="1.60"/><circle cx="211.20" cy="336.90" r="1.60"/><circle cx="212.80" cy="344.00" r="1.60"/><circle cx="214.90" cy="347.00" r="1.60"/><circle cx="217.00" cy="343.70" r="1.60"/><circle cx="218.70" cy="345.30" r="1.60"/><circle cx="220.30" cy="341.50" r="1.60"/><circle cx="222.00" cy="339.00" r="1.60"/><circle cx="224.10" cy="337.30" r="1.60"/><circle cx="225.75" cy="337.75" r="1.60"/><circle cx="228.70" cy="341.50" r="1.60"/><circle cx="230.30" cy="339.80" r="1.60"/><circle cx="232.00" cy="341.50" r="1.60"/><circle cx="232.80" cy="349.90" r="1.60"/><circle cx="234.50" cy="349.90" r="1.60"/><circle cx="236.60" cy="342.80" r="1.60"/><circle cx="238.25" cy="349.10" r="1.60"/><circle cx="240.30" cy="351.60" r="1.60"/><circle cx="242.40" cy="349.10" r="1.60"/><circle cx="244.50" cy="345.30" r="1.60"/><circle cx="247.00" cy="344.90" r="1.60"/><circle cx="249.00" cy="343.50" r="1.60"/><circle cx="250.75" cy="342.00" r="1.60"/><circle cx="252.00" cy="338.20" r="1.60"/><circle cx="254.10" cy="334.80" r="1.60"/><circle cx="255.75" cy="336.10" r="1.60"/><circle cx="257.80" cy="338.20" r="1.60"/><circle cx="259.90" cy="340.70" r="1.60"/><circle cx="262.40" cy="339.80" r="1.60"/><circle cx="264.50" cy="338.60" r="1.60"/><circle cx="266.60" cy="337.75" r="1.60"/><circle cx="269.10" cy="336.90" r="1.60"/><circle cx="270.75" cy="339.40" r="1.60"/><circle cx="272.40" cy="339.00" r="1.60"/><circle cx="273.25" cy="343.25" r="1.60"/><circle cx="275.75" cy="339.80" r="1.60"/><circle cx="278.00" cy="341.00" r="1.60"/><circle cx="280.00" cy="341.00" r="1.60"/><circle cx="281.60" cy="339.00" r="1.60"/><circle cx="283.00" cy="341.00" r="1.60"/><circle cx="284.50" cy="332.75" r="1.60"/><circle cx="286.60" cy="332.75" r="1.60"/><circle cx="287.80" cy="340.70" r="1.60"/><circle cx="289.50" cy="341.50" r="1.60"/><circle cx="291.20" cy="348.25" r="1.60"/><circle cx="292.80" cy="340.70" r="1.60"/><circle cx="294.50" cy="337.30" r="1.60"/><circle cx="296.20" cy="329.00" r="1.60"/><circle cx="297.80" cy="333.60" r="1.60"/><circle cx="299.90" cy="333.20" r="1.60"/><circle cx="301.60" cy="339.00" r="1.60"/><circle cx="302.40" cy="350.30" r="1.60"/><circle cx="304.10" cy="349.10" r="1.60"/><circle cx="305.75" cy="345.30" r="1.60"/><circle cx="307.80" cy="345.30" r="1.60"/><circle cx="309.50" cy="326.90" r="1.60"/><circle cx="311.20" cy="321.90" r="1.60"/><circle cx="312.80" cy="327.30" r="1.60"/><circle cx="314.90" cy="329.80" r="1.60"/><circle cx="317.00" cy="334.00" r="1.60"/><circle cx="318.25" cy="338.20" r="1.60"/><circle cx="319.90" cy="338.20" r="1.60"/><circle cx="321.60" cy="327.75" r="1.60"/><circle cx="322.40" cy="328.20" r="1.60"/><circle cx="323.70" cy="339.80" r="1.60"/><circle cx="324.90" cy="347.80" r="1.60"/><circle cx="326.60" cy="349.50" r="1.60"/><circle cx="328.70" cy="355.30" r="1.60"/><circle cx="329.90" cy="344.10" r="1.60"/><circle cx="331.60" cy="349.50" r="1.60"/><circle cx="333.70" cy="349.50" r="1.60"/><circle cx="335.30" cy="351.60" r="1.60"/><circle cx="337.00" cy="350.75" r="1.60"/><circle cx="338.70" cy="350.30" r="1.60"/><circle cx="340.30" cy="355.30" r="1.60"/><circle cx="342.00" cy="356.60" r="1.60"/><circle cx="343.70" cy="358.25" r="1.60"/><circle cx="345.30" cy="356.20" r="1.60"/><circle cx="347.00" cy="353.70" r="1.60"/><circle cx="348.70" cy="354.90" r="1.60"/><circle cx="350.75" cy="354.10" r="1.60"/><circle cx="352.40" cy="357.40" r="1.60"/><circle cx="354.10" cy="358.25" r="1.60"/><circle cx="355.75" cy="359.90" r="1.60"/><circle cx="357.00" cy="364.10" r="1.60"/><circle cx="358.70" cy="361.60" r="1.60"/><circle cx="360.30" cy="357.40" r="1.60"/><circle cx="362.40" cy="352.80" r="1.60"/><circle cx="364.10" cy="355.30" r="1.60"/><circle cx="365.75" cy="357.40" r="1.60"/><circle cx="367.40" cy="358.25" r="1.60"/><circle cx="369.10" cy="353.70" r="1.60"/><circle cx="370.75" cy="351.20" r="1.60"/><circle cx="372.40" cy="356.60" r="1.60"/><circle cx="374.10" cy="354.30" r="1.60"/><circle cx="375.75" cy="353.70" r="1.60"/><circle cx="377.40" cy="362.00" r="1.60"/><circle cx="379.10" cy="355.75" r="1.60"/><circle cx="380.30" cy="319.80" r="1.60"/><circle cx="381.60" cy="321.90" r="1.60"/><circle cx="383.70" cy="323.20" r="1.60"/><circle cx="385.75" cy="321.10" r="1.60"/><circle cx="387.80" cy="321.50" r="1.60"/><circle cx="389.90" cy="321.90" r="1.60"/><circle cx="392.00" cy="322.30" r="1.60"/><circle cx="394.10" cy="323.20" r="1.60"/><circle cx="395.75" cy="328.20" r="1.60"/><circle cx="397.60" cy="328.50" r="1.60"/><circle cx="399.50" cy="328.20" r="1.60"/><circle cx="401.20" cy="330.70" r="1.60"/><circle cx="402.40" cy="335.25" r="1.60"/><circle cx="404.10" cy="340.70" r="1.60"/><circle cx="405.75" cy="335.70" r="1.60"/><circle cx="407.80" cy="332.75" r="1.60"/><circle cx="409.90" cy="334.00" r="1.60"/><circle cx="411.60" cy="335.25" r="1.60"/><circle cx="413.25" cy="335.25" r="1.60"/><circle cx="414.90" cy="336.10" r="1.60"/><circle cx="416.60" cy="329.00" r="1.60"/><circle cx="418.25" cy="342.50" r="1.60"/><circle cx="419.90" cy="338.20" r="1.60"/><circle cx="421.60" cy="331.50" r="1.60"/><circle cx="423.25" cy="329.80" r="1.60"/><circle cx="424.90" cy="338.20" r="1.60"/><circle cx="426.20" cy="347.80" r="1.60"/><circle cx="428.25" cy="326.50" r="1.60"/><circle cx="429.90" cy="335.70" r="1.60"/><circle cx="431.20" cy="346.20" r="1.60"/><circle cx="433.25" cy="352.00" r="1.60"/><circle cx="434.90" cy="355.30" r="1.60"/><circle cx="436.60" cy="359.90" r="1.60"/><circle cx="438.70" cy="359.90" r="1.60"/><circle cx="439.90" cy="364.10" r="1.60"/><circle cx="441.60" cy="369.10" r="1.60"/><circle cx="443.25" cy="374.10" r="1.60"/><circle cx="444.90" cy="365.30" r="1.60"/><circle cx="446.60" cy="356.20" r="1.60"/><circle cx="448.25" cy="368.70" r="1.60"/><circle cx="450.30" cy="369.10" r="1.60"/><circle cx="452.00" cy="377.40" r="1.60"/><circle cx="453.25" cy="356.60" r="1.60"/><circle cx="455.30" cy="356.60" r="1.60"/><circle cx="457.00" cy="351.60" r="1.60"/><circle cx="458.70" cy="347.00" r="1.60"/><circle cx="460.30" cy="347.00" r="1.60"/><circle cx="462.40" cy="345.30" r="1.60"/><circle cx="463.70" cy="349.50" r="1.60"/><circle cx="465.30" cy="352.40" r="1.60"/><circle cx="467.40" cy="355.75" r="1.60"/><circle cx="469.10" cy="358.70" r="1.60"/><circle cx="470.75" cy="363.70" r="1.60"/><circle cx="472.40" cy="366.60" r="1.60"/><circle cx="473.70" cy="356.60" r="1.60"/><circle cx="475.75" cy="352.40" r="1.60"/><circle cx="477.40" cy="358.25" r="1.60"/><circle cx="479.10" cy="370.75" r="1.60"/><circle cx="480.75" cy="369.50" r="1.60"/><circle cx="482.40" cy="366.20" r="1.60"/><circle cx="484.10" cy="362.80" r="1.60"/><circle cx="486.20" cy="362.00" r="1.60"/><circle cx="488.25" cy="362.40" r="1.60"/><circle cx="490.30" cy="360.75" r="1.60"/><circle cx="492.40" cy="359.50" r="1.60"/><circle cx="494.10" cy="357.40" r="1.60"/><circle cx="495.75" cy="354.50" r="1.60"/><circle cx="497.40" cy="359.10" r="1.60"/><circle cx="499.10" cy="357.00" r="1.60"/><circle cx="500.75" cy="364.10" r="1.60"/><circle cx="502.80" cy="367.00" r="1.60"/><circle cx="504.50" cy="359.10" r="1.60"/><circle cx="506.00" cy="345.30" r="1.60"/><circle cx="507.80" cy="351.20" r="1.60"/><circle cx="509.50" cy="354.10" r="1.60"/><circle cx="511.20" cy="364.10" r="1.60"/><circle cx="512.80" cy="364.50" r="1.60"/><circle cx="514.50" cy="358.70" r="1.60"/><circle cx="516.20" cy="357.00" r="1.60"/><circle cx="517.80" cy="357.40" r="1.60"/><circle cx="519.50" cy="351.20" r="1.60"/><circle cx="521.20" cy="348.25" r="1.60"/><circle cx="522.80" cy="347.50" r="1.60"/><circle cx="524.50" cy="349.90" r="1.60"/><circle cx="526.20" cy="352.40" r="1.60"/><circle cx="528.25" cy="354.90" r="1.60"/><circle cx="529.90" cy="359.10" r="1.60"/><circle cx="531.60" cy="362.40" r="1.60"/><circle cx="533.25" cy="361.20" r="1.60"/><circle cx="534.90" cy="355.75" r="1.60"/><circle cx="535.75" cy="345.30" r="1.60"/><circle cx="536.60" cy="336.90" r="1.60"/><circle cx="537.80" cy="345.30" r="1.60"/><circle cx="539.90" cy="343.25" r="1.60"/><circle cx="541.60" cy="349.90" r="1.60"/><circle cx="542.60" cy="341.00" r="1.60"/><circle cx="544.50" cy="337.75" r="1.60"/><circle cx="546.60" cy="336.90" r="1.60"/><circle cx="548.40" cy="330.90" r="1.60"/><circle cx="550.00" cy="330.00" r="1.60"/><circle cx="552.00" cy="331.10" r="1.60"/><circle cx="553.10" cy="330.60" r="1.60"/><circle cx="555.00" cy="322.50" r="1.60"/><circle cx="556.60" cy="328.10" r="1.60"/><circle cx="558.40" cy="337.80" r="1.60"/><circle cx="560.00" cy="328.10" r="1.60"/><circle cx="561.90" cy="324.40" r="1.60"/></g>
<rect x="528.5" y="254.5" width="50" height="34" rx="2" ry="2" fill="#fff" stroke="#000" stroke-width="1"/>
<line x1="532" y1="259.50" x2="544" y2="263.50" stroke="#b22222" stroke-width="1.25"/>
<circle cx="537.5" cy="261.20" r="1.7" fill="#b22222"/>
<text class="t" transform="translate(547.90 263.80) scale(1 1.100)" text-anchor="start" textLength="8.00" lengthAdjust="spacing" >Bx</text>
<text class="t" transform="translate(560.90 263.80) scale(1 1.100)" text-anchor="start" textLength="15.10" lengthAdjust="spacing" >GSE</text>
<line x1="532" y1="269.50" x2="544" y2="273.50" stroke="#a8a81c" stroke-width="1.25"/>
<circle cx="537.5" cy="271.20" r="1.7" fill="#a8a81c"/>
<text class="t" transform="translate(547.90 273.60) scale(1 1.100)" text-anchor="start" textLength="8.90" lengthAdjust="spacing" >By</text>
<text class="t" transform="translate(560.90 273.60) scale(1 1.100)" text-anchor="start" textLength="15.10" lengthAdjust="spacing" >GSE</text>
<line x1="532" y1="279.50" x2="544" y2="283.50" stroke="#28ae28" stroke-width="1.25"/>
<circle cx="537.5" cy="281.20" r="1.7" fill="#28ae28"/>
<text class="t" transform="translate(547.90 283.50) scale(1 1.100)" text-anchor="start" textLength="8.90" lengthAdjust="spacing" >Bz</text>
<text class="t" transform="translate(559.90 283.50) scale(1 1.100)" text-anchor="start" textLength="15.10" lengthAdjust="spacing" >GSE</text>
</svg>
</body></html>
